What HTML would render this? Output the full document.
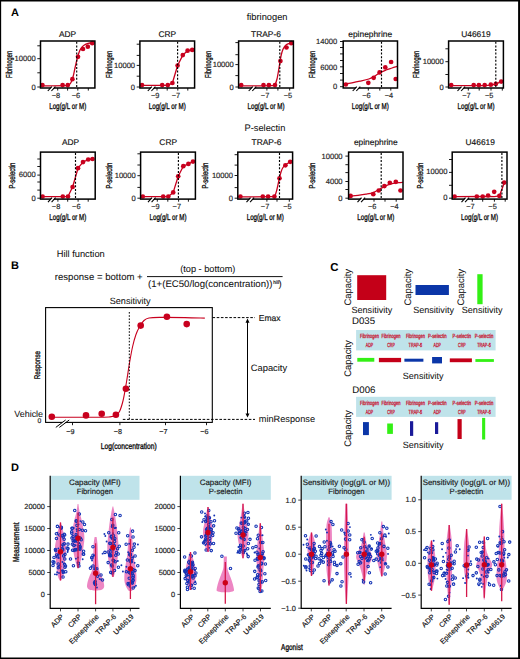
<!DOCTYPE html>
<html><head><meta charset="utf-8"><style>
html,body{margin:0;padding:0;background:#fff;}
svg{display:block;}
svg text{font-family:"Liberation Sans", sans-serif;text-rendering:geometricPrecision;}
</style></head><body>
<svg width="520" height="659" viewBox="0 0 520 659">
<rect x="0" y="0" width="520" height="659" fill="#fff"/>
<text font-size="11" fill="#000" font-weight="bold" transform="translate(10.90 15.70)">A</text>
<text font-size="9.3" text-anchor="middle" fill="#111" stroke="#111" stroke-width="0.06" transform="translate(267.10 19.70)">fibrinogen</text>
<text font-size="9.3" text-anchor="middle" fill="#111" stroke="#111" stroke-width="0.06" transform="translate(264.90 130.70)">P-selectin</text>
<path d="M40.50,85.80 C44.75,85.77 61.25,85.77 66.00,85.60 C70.75,85.43 68.17,85.32 69.00,84.80 C69.83,84.28 70.33,83.80 71.00,82.50 C71.67,81.20 72.33,79.42 73.00,77.00 C73.67,74.58 74.33,70.92 75.00,68.00 C75.67,65.08 76.33,62.08 77.00,59.50 C77.67,56.92 78.33,54.37 79.00,52.50 C79.67,50.63 80.17,49.50 81.00,48.30 C81.83,47.10 82.83,46.12 84.00,45.30 C85.17,44.48 86.25,43.90 88.00,43.40 C89.75,42.90 93.42,42.48 94.50,42.30" fill="none" stroke="#c8001e" stroke-width="1.3" stroke-linejoin="round"/>
<circle cx="42.40" cy="85.10" r="2.35" fill="#c8001e"/>
<circle cx="62.60" cy="85.10" r="2.35" fill="#c8001e"/>
<circle cx="67.80" cy="85.10" r="2.35" fill="#c8001e"/>
<circle cx="72.40" cy="79.20" r="2.35" fill="#c8001e"/>
<circle cx="78.00" cy="56.80" r="2.35" fill="#c8001e"/>
<circle cx="83.00" cy="49.00" r="2.35" fill="#c8001e"/>
<circle cx="87.80" cy="46.70" r="2.35" fill="#c8001e"/>
<circle cx="92.20" cy="43.20" r="2.35" fill="#c8001e"/>
<line x1="76.70" y1="41.80" x2="76.70" y2="87.50" stroke="#000" stroke-width="1.15" stroke-dasharray="2.0 1.6"/>
<rect x="40.50" y="41.00" width="54.40" height="47.00" fill="none" stroke="#000" stroke-width="1.5"/>
<line x1="37.30" y1="45.80" x2="40.50" y2="45.80" stroke="#000" stroke-width="0.9"/>
<line x1="37.30" y1="58.70" x2="40.50" y2="58.70" stroke="#000" stroke-width="0.9"/>
<line x1="37.30" y1="72.80" x2="40.50" y2="72.80" stroke="#000" stroke-width="0.9"/>
<line x1="37.30" y1="87.00" x2="40.50" y2="87.00" stroke="#000" stroke-width="0.9"/>
<text font-size="7.6" text-anchor="end" fill="#222" stroke="#222" stroke-width="0.16" transform="translate(35.70 61.40)">10000</text>
<text font-size="7.6" text-anchor="end" fill="#222" stroke="#222" stroke-width="0.16" transform="translate(35.70 89.70)">0</text>
<line x1="57.70" y1="88.00" x2="57.70" y2="90.60" stroke="#000" stroke-width="0.9"/>
<line x1="67.60" y1="88.00" x2="67.60" y2="90.60" stroke="#000" stroke-width="0.9"/>
<line x1="77.80" y1="88.00" x2="77.80" y2="90.60" stroke="#000" stroke-width="0.9"/>
<line x1="88.30" y1="88.00" x2="88.30" y2="90.60" stroke="#000" stroke-width="0.9"/>
<text font-size="7.4" text-anchor="end" fill="#222" stroke="#222" stroke-width="0.16" transform="translate(60.10 98.30)">−8</text>
<text font-size="7.4" text-anchor="end" fill="#222" stroke="#222" stroke-width="0.16" transform="translate(80.20 98.30)">−6</text>
<polygon points="49.00,90.60 52.00,86.80 54.60,86.80 51.60,90.60" fill="#fff"/>
<line x1="47.80" y1="91.00" x2="51.80" y2="86.60" stroke="#000" stroke-width="1.1"/>
<line x1="51.40" y1="91.00" x2="55.40" y2="86.60" stroke="#000" stroke-width="1.1"/>
<text font-size="8.4" text-anchor="middle" fill="#111" stroke="#111" stroke-width="0.16" transform="translate(67.50 36.50)">ADP</text>
<text font-size="8.6" text-anchor="middle" fill="#111" stroke="#111" stroke-width="0.35" transform="translate(67.70 108.70) scale(0.7212 1)">Log(g/L or M)</text>
<text font-size="8.6" text-anchor="middle" fill="#111" stroke="#111" stroke-width="0.35" transform="translate(11.80 64.40) rotate(-90) scale(0.6644 1)">Fibrinogen</text>
<path d="M142.00,85.30 L162.20,85.30 L167.80,85.30 L172.40,83.00 L177.60,65.50 L182.80,55.10 L187.60,50.70 L192.20,49.90" fill="none" stroke="#c8001e" stroke-width="1.3" stroke-linejoin="round"/>
<circle cx="142.00" cy="85.10" r="2.35" fill="#c8001e"/>
<circle cx="162.20" cy="85.10" r="2.35" fill="#c8001e"/>
<circle cx="167.80" cy="85.10" r="2.35" fill="#c8001e"/>
<circle cx="172.40" cy="83.00" r="2.35" fill="#c8001e"/>
<circle cx="177.60" cy="65.50" r="2.35" fill="#c8001e"/>
<circle cx="182.80" cy="55.10" r="2.35" fill="#c8001e"/>
<circle cx="187.60" cy="50.70" r="2.35" fill="#c8001e"/>
<circle cx="192.20" cy="49.90" r="2.35" fill="#c8001e"/>
<line x1="177.60" y1="41.80" x2="177.60" y2="87.50" stroke="#000" stroke-width="1.15" stroke-dasharray="2.0 1.6"/>
<rect x="139.90" y="41.00" width="54.70" height="47.00" fill="none" stroke="#000" stroke-width="1.5"/>
<line x1="136.70" y1="44.20" x2="139.90" y2="44.20" stroke="#000" stroke-width="0.9"/>
<line x1="136.70" y1="55.40" x2="139.90" y2="55.40" stroke="#000" stroke-width="0.9"/>
<line x1="136.70" y1="65.40" x2="139.90" y2="65.40" stroke="#000" stroke-width="0.9"/>
<line x1="136.70" y1="76.20" x2="139.90" y2="76.20" stroke="#000" stroke-width="0.9"/>
<line x1="136.70" y1="87.00" x2="139.90" y2="87.00" stroke="#000" stroke-width="0.9"/>
<text font-size="7.6" text-anchor="end" fill="#222" stroke="#222" stroke-width="0.16" transform="translate(135.10 68.10)">10000</text>
<text font-size="7.6" text-anchor="end" fill="#222" stroke="#222" stroke-width="0.16" transform="translate(135.10 89.70)">0</text>
<line x1="157.00" y1="88.00" x2="157.00" y2="90.60" stroke="#000" stroke-width="0.9"/>
<line x1="167.20" y1="88.00" x2="167.20" y2="90.60" stroke="#000" stroke-width="0.9"/>
<line x1="177.80" y1="88.00" x2="177.80" y2="90.60" stroke="#000" stroke-width="0.9"/>
<line x1="187.80" y1="88.00" x2="187.80" y2="90.60" stroke="#000" stroke-width="0.9"/>
<text font-size="7.4" text-anchor="end" fill="#222" stroke="#222" stroke-width="0.16" transform="translate(159.40 98.30)">−9</text>
<text font-size="7.4" text-anchor="end" fill="#222" stroke="#222" stroke-width="0.16" transform="translate(180.20 98.30)">−7</text>
<polygon points="149.00,90.60 152.00,86.80 154.60,86.80 151.60,90.60" fill="#fff"/>
<line x1="147.80" y1="91.00" x2="151.80" y2="86.60" stroke="#000" stroke-width="1.1"/>
<line x1="151.40" y1="91.00" x2="155.40" y2="86.60" stroke="#000" stroke-width="1.1"/>
<text font-size="8.4" text-anchor="middle" fill="#111" stroke="#111" stroke-width="0.16" transform="translate(167.30 36.50)">CRP</text>
<text font-size="8.6" text-anchor="middle" fill="#111" stroke="#111" stroke-width="0.35" transform="translate(167.25 108.70) scale(0.7212 1)">Log(g/L or M)</text>
<text font-size="8.6" text-anchor="middle" fill="#111" stroke="#111" stroke-width="0.35" transform="translate(112.30 64.40) rotate(-90) scale(0.6644 1)">Fibrinogen</text>
<path d="M238.50,85.80 C244.08,85.77 265.92,85.85 272.00,85.60 C278.08,85.35 274.17,85.40 275.00,84.30 C275.83,83.20 276.33,81.72 277.00,79.00 C277.67,76.28 278.33,71.83 279.00,68.00 C279.67,64.17 280.33,59.13 281.00,56.00 C281.67,52.87 282.17,51.03 283.00,49.20 C283.83,47.37 284.83,46.00 286.00,45.00 C287.17,44.00 288.78,43.60 290.00,43.20 C291.22,42.80 292.75,42.70 293.30,42.60" fill="none" stroke="#c8001e" stroke-width="1.3" stroke-linejoin="round"/>
<circle cx="241.20" cy="85.10" r="2.35" fill="#c8001e"/>
<circle cx="263.50" cy="85.10" r="2.35" fill="#c8001e"/>
<circle cx="268.90" cy="85.10" r="2.35" fill="#c8001e"/>
<circle cx="275.00" cy="85.10" r="2.35" fill="#c8001e"/>
<circle cx="280.40" cy="61.10" r="2.35" fill="#c8001e"/>
<circle cx="286.50" cy="47.50" r="2.35" fill="#c8001e"/>
<circle cx="291.20" cy="43.20" r="2.35" fill="#c8001e"/>
<line x1="279.80" y1="41.80" x2="279.80" y2="87.50" stroke="#000" stroke-width="1.15" stroke-dasharray="2.0 1.6"/>
<rect x="238.60" y="41.00" width="54.80" height="47.00" fill="none" stroke="#000" stroke-width="1.5"/>
<line x1="235.40" y1="42.60" x2="238.60" y2="42.60" stroke="#000" stroke-width="0.9"/>
<line x1="235.40" y1="54.70" x2="238.60" y2="54.70" stroke="#000" stroke-width="0.9"/>
<line x1="235.40" y1="64.60" x2="238.60" y2="64.60" stroke="#000" stroke-width="0.9"/>
<line x1="235.40" y1="75.60" x2="238.60" y2="75.60" stroke="#000" stroke-width="0.9"/>
<line x1="235.40" y1="87.00" x2="238.60" y2="87.00" stroke="#000" stroke-width="0.9"/>
<text font-size="7.6" text-anchor="end" fill="#222" stroke="#222" stroke-width="0.16" transform="translate(233.80 67.30)">10000</text>
<text font-size="7.6" text-anchor="end" fill="#222" stroke="#222" stroke-width="0.16" transform="translate(233.80 89.70)">0</text>
<line x1="266.90" y1="88.00" x2="266.90" y2="90.60" stroke="#000" stroke-width="0.9"/>
<line x1="277.90" y1="88.00" x2="277.90" y2="90.60" stroke="#000" stroke-width="0.9"/>
<line x1="289.70" y1="88.00" x2="289.70" y2="90.60" stroke="#000" stroke-width="0.9"/>
<text font-size="7.4" text-anchor="end" fill="#222" stroke="#222" stroke-width="0.16" transform="translate(269.30 98.30)">−7</text>
<text font-size="7.4" text-anchor="end" fill="#222" stroke="#222" stroke-width="0.16" transform="translate(292.10 98.30)">−5</text>
<polygon points="249.90,90.60 252.90,86.80 255.50,86.80 252.50,90.60" fill="#fff"/>
<line x1="248.70" y1="91.00" x2="252.70" y2="86.60" stroke="#000" stroke-width="1.1"/>
<line x1="252.30" y1="91.00" x2="256.30" y2="86.60" stroke="#000" stroke-width="1.1"/>
<text font-size="8.4" text-anchor="middle" fill="#111" stroke="#111" stroke-width="0.16" transform="translate(266.00 36.50)">TRAP-6</text>
<text font-size="8.6" text-anchor="middle" fill="#111" stroke="#111" stroke-width="0.35" transform="translate(266.00 108.70) scale(0.7212 1)">Log(g/L or M)</text>
<text font-size="8.6" text-anchor="middle" fill="#111" stroke="#111" stroke-width="0.35" transform="translate(210.80 64.40) rotate(-90) scale(0.6644 1)">Fibrinogen</text>
<path d="M343.10,84.20 C344.58,83.97 349.18,83.30 352.00,82.80 C354.82,82.30 357.20,81.83 360.00,81.20 C362.80,80.57 366.30,79.87 368.80,79.00 C371.30,78.13 373.13,77.07 375.00,76.00 C376.87,74.93 378.17,73.60 380.00,72.60 C381.83,71.60 384.00,70.77 386.00,70.00 C388.00,69.23 390.12,68.62 392.00,68.00 C393.88,67.38 396.42,66.58 397.30,66.30" fill="none" stroke="#c8001e" stroke-width="1.3" stroke-linejoin="round"/>
<circle cx="345.80" cy="84.50" r="2.35" fill="#c8001e"/>
<circle cx="368.30" cy="82.80" r="2.35" fill="#c8001e"/>
<circle cx="373.70" cy="77.80" r="2.35" fill="#c8001e"/>
<circle cx="379.60" cy="72.40" r="2.35" fill="#c8001e"/>
<circle cx="385.30" cy="67.40" r="2.35" fill="#c8001e"/>
<circle cx="391.10" cy="62.00" r="2.35" fill="#c8001e"/>
<circle cx="395.70" cy="79.00" r="2.35" fill="#c8001e"/>
<line x1="381.50" y1="41.80" x2="381.50" y2="87.50" stroke="#000" stroke-width="1.15" stroke-dasharray="2.0 1.6"/>
<rect x="343.20" y="41.00" width="54.30" height="47.00" fill="none" stroke="#000" stroke-width="1.5"/>
<line x1="340.00" y1="41.50" x2="343.20" y2="41.50" stroke="#000" stroke-width="0.9"/>
<line x1="340.00" y1="47.50" x2="343.20" y2="47.50" stroke="#000" stroke-width="0.9"/>
<line x1="340.00" y1="53.90" x2="343.20" y2="53.90" stroke="#000" stroke-width="0.9"/>
<line x1="340.00" y1="60.50" x2="343.20" y2="60.50" stroke="#000" stroke-width="0.9"/>
<line x1="340.00" y1="66.80" x2="343.20" y2="66.80" stroke="#000" stroke-width="0.9"/>
<line x1="340.00" y1="73.50" x2="343.20" y2="73.50" stroke="#000" stroke-width="0.9"/>
<line x1="340.00" y1="80.10" x2="343.20" y2="80.10" stroke="#000" stroke-width="0.9"/>
<line x1="340.00" y1="86.70" x2="343.20" y2="86.70" stroke="#000" stroke-width="0.9"/>
<text font-size="7.6" text-anchor="end" fill="#222" stroke="#222" stroke-width="0.16" transform="translate(337.20 43.90)">14000</text>
<text font-size="7.6" text-anchor="end" fill="#222" stroke="#222" stroke-width="0.16" transform="translate(337.20 69.50)">6000</text>
<text font-size="7.6" text-anchor="end" fill="#222" stroke="#222" stroke-width="0.16" transform="translate(337.20 89.40)">0</text>
<line x1="368.30" y1="88.00" x2="368.30" y2="90.60" stroke="#000" stroke-width="0.9"/>
<line x1="379.80" y1="88.00" x2="379.80" y2="90.60" stroke="#000" stroke-width="0.9"/>
<line x1="390.80" y1="88.00" x2="390.80" y2="90.60" stroke="#000" stroke-width="0.9"/>
<text font-size="7.4" text-anchor="end" fill="#222" stroke="#222" stroke-width="0.16" transform="translate(370.70 98.30)">−6</text>
<text font-size="7.4" text-anchor="end" fill="#222" stroke="#222" stroke-width="0.16" transform="translate(393.20 98.30)">−4</text>
<polygon points="353.90,90.60 356.90,86.80 359.50,86.80 356.50,90.60" fill="#fff"/>
<line x1="352.70" y1="91.00" x2="356.70" y2="86.60" stroke="#000" stroke-width="1.1"/>
<line x1="356.30" y1="91.00" x2="360.30" y2="86.60" stroke="#000" stroke-width="1.1"/>
<text font-size="8.4" text-anchor="middle" fill="#111" stroke="#111" stroke-width="0.16" transform="translate(370.20 36.50)">epinephrine</text>
<text font-size="8.6" text-anchor="middle" fill="#111" stroke="#111" stroke-width="0.35" transform="translate(370.35 108.70) scale(0.7212 1)">Log(g/L or M)</text>
<text font-size="8.6" text-anchor="middle" fill="#111" stroke="#111" stroke-width="0.35" transform="translate(315.30 64.40) rotate(-90) scale(0.6644 1)">Fibrinogen</text>
<path d="M451.20,85.60 L484.70,85.60 L490.80,85.20 L495.80,84.20 L501.20,81.60" fill="none" stroke="#c8001e" stroke-width="1.3" stroke-linejoin="round"/>
<circle cx="451.20" cy="85.10" r="2.35" fill="#c8001e"/>
<circle cx="473.70" cy="85.10" r="2.35" fill="#c8001e"/>
<circle cx="478.90" cy="85.10" r="2.35" fill="#c8001e"/>
<circle cx="484.70" cy="85.10" r="2.35" fill="#c8001e"/>
<circle cx="490.80" cy="84.70" r="2.35" fill="#c8001e"/>
<circle cx="495.80" cy="83.90" r="2.35" fill="#c8001e"/>
<circle cx="501.20" cy="81.60" r="2.35" fill="#c8001e"/>
<line x1="495.80" y1="41.80" x2="495.80" y2="87.50" stroke="#000" stroke-width="1.15" stroke-dasharray="2.0 1.6"/>
<rect x="448.60" y="41.00" width="54.80" height="47.00" fill="none" stroke="#000" stroke-width="1.5"/>
<line x1="445.40" y1="48.80" x2="448.60" y2="48.80" stroke="#000" stroke-width="0.9"/>
<line x1="445.40" y1="61.70" x2="448.60" y2="61.70" stroke="#000" stroke-width="0.9"/>
<line x1="445.40" y1="74.50" x2="448.60" y2="74.50" stroke="#000" stroke-width="0.9"/>
<line x1="445.40" y1="87.00" x2="448.60" y2="87.00" stroke="#000" stroke-width="0.9"/>
<text font-size="7.6" text-anchor="end" fill="#222" stroke="#222" stroke-width="0.16" transform="translate(443.80 64.40)">10000</text>
<text font-size="7.6" text-anchor="end" fill="#222" stroke="#222" stroke-width="0.16" transform="translate(443.80 89.70)">0</text>
<line x1="468.30" y1="88.00" x2="468.30" y2="90.60" stroke="#000" stroke-width="0.9"/>
<line x1="479.20" y1="88.00" x2="479.20" y2="90.60" stroke="#000" stroke-width="0.9"/>
<line x1="491.00" y1="88.00" x2="491.00" y2="90.60" stroke="#000" stroke-width="0.9"/>
<line x1="502.30" y1="88.00" x2="502.30" y2="90.60" stroke="#000" stroke-width="0.9"/>
<text font-size="7.4" text-anchor="end" fill="#222" stroke="#222" stroke-width="0.16" transform="translate(470.70 98.30)">−7</text>
<text font-size="7.4" text-anchor="end" fill="#222" stroke="#222" stroke-width="0.16" transform="translate(493.40 98.30)">−5</text>
<polygon points="458.70,90.60 461.70,86.80 464.30,86.80 461.30,90.60" fill="#fff"/>
<line x1="457.50" y1="91.00" x2="461.50" y2="86.60" stroke="#000" stroke-width="1.1"/>
<line x1="461.10" y1="91.00" x2="465.10" y2="86.60" stroke="#000" stroke-width="1.1"/>
<text font-size="8.4" text-anchor="middle" fill="#111" stroke="#111" stroke-width="0.16" transform="translate(475.90 36.70)">U46619</text>
<text font-size="8.6" text-anchor="middle" fill="#111" stroke="#111" stroke-width="0.35" transform="translate(476.00 108.70) scale(0.7212 1)">Log(g/L or M)</text>
<text font-size="8.6" text-anchor="middle" fill="#111" stroke="#111" stroke-width="0.35" transform="translate(418.50 64.40) rotate(-90) scale(0.6644 1)">Fibrinogen</text>
<path d="M42.60,196.70 L62.80,196.70 L68.00,196.50 L72.60,187.00 L78.00,168.20 L83.00,162.10 L88.20,159.50 L92.50,159.00" fill="none" stroke="#c8001e" stroke-width="1.3" stroke-linejoin="round"/>
<circle cx="42.60" cy="196.50" r="2.35" fill="#c8001e"/>
<circle cx="62.80" cy="196.50" r="2.35" fill="#c8001e"/>
<circle cx="68.00" cy="196.50" r="2.35" fill="#c8001e"/>
<circle cx="72.60" cy="187.00" r="2.35" fill="#c8001e"/>
<circle cx="78.00" cy="168.20" r="2.35" fill="#c8001e"/>
<circle cx="83.00" cy="162.10" r="2.35" fill="#c8001e"/>
<circle cx="88.20" cy="159.50" r="2.35" fill="#c8001e"/>
<circle cx="92.50" cy="159.00" r="2.35" fill="#c8001e"/>
<line x1="75.50" y1="152.90" x2="75.50" y2="198.60" stroke="#000" stroke-width="1.15" stroke-dasharray="2.0 1.6"/>
<rect x="40.50" y="152.10" width="54.70" height="47.00" fill="none" stroke="#000" stroke-width="1.5"/>
<line x1="37.30" y1="159.00" x2="40.50" y2="159.00" stroke="#000" stroke-width="0.9"/>
<line x1="37.30" y1="166.50" x2="40.50" y2="166.50" stroke="#000" stroke-width="0.9"/>
<line x1="37.30" y1="175.10" x2="40.50" y2="175.10" stroke="#000" stroke-width="0.9"/>
<line x1="37.30" y1="182.00" x2="40.50" y2="182.00" stroke="#000" stroke-width="0.9"/>
<line x1="37.30" y1="190.10" x2="40.50" y2="190.10" stroke="#000" stroke-width="0.9"/>
<line x1="37.30" y1="198.20" x2="40.50" y2="198.20" stroke="#000" stroke-width="0.9"/>
<text font-size="7.6" text-anchor="end" fill="#222" stroke="#222" stroke-width="0.16" transform="translate(35.70 177.10)">6000</text>
<text font-size="7.6" text-anchor="end" fill="#222" stroke="#222" stroke-width="0.16" transform="translate(35.70 200.90)">0</text>
<line x1="57.90" y1="199.10" x2="57.90" y2="201.70" stroke="#000" stroke-width="0.9"/>
<line x1="67.70" y1="199.10" x2="67.70" y2="201.70" stroke="#000" stroke-width="0.9"/>
<line x1="78.10" y1="199.10" x2="78.10" y2="201.70" stroke="#000" stroke-width="0.9"/>
<line x1="88.20" y1="199.10" x2="88.20" y2="201.70" stroke="#000" stroke-width="0.9"/>
<text font-size="7.4" text-anchor="end" fill="#222" stroke="#222" stroke-width="0.16" transform="translate(60.30 209.40)">−8</text>
<text font-size="7.4" text-anchor="end" fill="#222" stroke="#222" stroke-width="0.16" transform="translate(80.50 209.40)">−6</text>
<polygon points="49.20,201.70 52.20,197.90 54.80,197.90 51.80,201.70" fill="#fff"/>
<line x1="48.00" y1="202.10" x2="52.00" y2="197.70" stroke="#000" stroke-width="1.1"/>
<line x1="51.60" y1="202.10" x2="55.60" y2="197.70" stroke="#000" stroke-width="1.1"/>
<text font-size="8.4" text-anchor="middle" fill="#111" stroke="#111" stroke-width="0.16" transform="translate(70.60 144.60)">ADP</text>
<text font-size="8.6" text-anchor="middle" fill="#111" stroke="#111" stroke-width="0.35" transform="translate(67.85 219.70) scale(0.7212 1)">Log(g/L or M)</text>
<text font-size="8.6" text-anchor="middle" fill="#111" stroke="#111" stroke-width="0.35" transform="translate(14.60 175.60) rotate(-90) scale(0.6886 1)">P-selectin</text>
<path d="M142.80,196.70 L163.20,196.70 L168.30,196.50 L173.20,192.40 L178.20,176.30 L183.30,166.20 L188.40,163.90 L193.00,161.60" fill="none" stroke="#c8001e" stroke-width="1.3" stroke-linejoin="round"/>
<circle cx="142.80" cy="196.50" r="2.35" fill="#c8001e"/>
<circle cx="163.20" cy="196.50" r="2.35" fill="#c8001e"/>
<circle cx="168.30" cy="196.50" r="2.35" fill="#c8001e"/>
<circle cx="173.20" cy="192.40" r="2.35" fill="#c8001e"/>
<circle cx="178.20" cy="176.30" r="2.35" fill="#c8001e"/>
<circle cx="183.30" cy="166.20" r="2.35" fill="#c8001e"/>
<circle cx="188.40" cy="163.90" r="2.35" fill="#c8001e"/>
<circle cx="193.00" cy="161.60" r="2.35" fill="#c8001e"/>
<line x1="178.40" y1="152.90" x2="178.40" y2="198.60" stroke="#000" stroke-width="1.15" stroke-dasharray="2.0 1.6"/>
<rect x="140.60" y="152.10" width="54.80" height="47.00" fill="none" stroke="#000" stroke-width="1.5"/>
<line x1="137.40" y1="153.80" x2="140.60" y2="153.80" stroke="#000" stroke-width="0.9"/>
<line x1="137.40" y1="165.00" x2="140.60" y2="165.00" stroke="#000" stroke-width="0.9"/>
<line x1="137.40" y1="175.70" x2="140.60" y2="175.70" stroke="#000" stroke-width="0.9"/>
<line x1="137.40" y1="187.40" x2="140.60" y2="187.40" stroke="#000" stroke-width="0.9"/>
<line x1="137.40" y1="198.20" x2="140.60" y2="198.20" stroke="#000" stroke-width="0.9"/>
<text font-size="7.6" text-anchor="end" fill="#222" stroke="#222" stroke-width="0.16" transform="translate(135.80 178.30)">10000</text>
<text font-size="7.6" text-anchor="end" fill="#222" stroke="#222" stroke-width="0.16" transform="translate(135.80 200.90)">0</text>
<line x1="157.30" y1="199.10" x2="157.30" y2="201.70" stroke="#000" stroke-width="0.9"/>
<line x1="167.80" y1="199.10" x2="167.80" y2="201.70" stroke="#000" stroke-width="0.9"/>
<line x1="178.60" y1="199.10" x2="178.60" y2="201.70" stroke="#000" stroke-width="0.9"/>
<line x1="188.40" y1="199.10" x2="188.40" y2="201.70" stroke="#000" stroke-width="0.9"/>
<text font-size="7.4" text-anchor="end" fill="#222" stroke="#222" stroke-width="0.16" transform="translate(159.70 209.40)">−9</text>
<text font-size="7.4" text-anchor="end" fill="#222" stroke="#222" stroke-width="0.16" transform="translate(181.00 209.40)">−7</text>
<polygon points="149.20,201.70 152.20,197.90 154.80,197.90 151.80,201.70" fill="#fff"/>
<line x1="148.00" y1="202.10" x2="152.00" y2="197.70" stroke="#000" stroke-width="1.1"/>
<line x1="151.60" y1="202.10" x2="155.60" y2="197.70" stroke="#000" stroke-width="1.1"/>
<text font-size="8.4" text-anchor="middle" fill="#111" stroke="#111" stroke-width="0.16" transform="translate(168.20 144.60)">CRP</text>
<text font-size="8.6" text-anchor="middle" fill="#111" stroke="#111" stroke-width="0.35" transform="translate(168.00 219.70) scale(0.7212 1)">Log(g/L or M)</text>
<text font-size="8.6" text-anchor="middle" fill="#111" stroke="#111" stroke-width="0.35" transform="translate(111.60 175.60) rotate(-90) scale(0.6886 1)">P-selectin</text>
<path d="M237.70,196.80 C243.42,196.78 265.82,196.87 272.00,196.70 C278.18,196.53 274.00,196.92 274.80,195.80 C275.60,194.68 276.10,192.63 276.80,190.00 C277.50,187.37 278.30,183.00 279.00,180.00 C279.70,177.00 280.33,174.08 281.00,172.00 C281.67,169.92 282.17,168.75 283.00,167.50 C283.83,166.25 284.83,165.38 286.00,164.50 C287.17,163.62 288.92,162.70 290.00,162.20 C291.08,161.70 292.08,161.62 292.50,161.50" fill="none" stroke="#c8001e" stroke-width="1.3" stroke-linejoin="round"/>
<circle cx="240.40" cy="196.50" r="2.35" fill="#c8001e"/>
<circle cx="262.80" cy="196.50" r="2.35" fill="#c8001e"/>
<circle cx="268.10" cy="196.50" r="2.35" fill="#c8001e"/>
<circle cx="274.40" cy="196.50" r="2.35" fill="#c8001e"/>
<circle cx="279.50" cy="178.30" r="2.35" fill="#c8001e"/>
<circle cx="285.40" cy="165.30" r="2.35" fill="#c8001e"/>
<circle cx="290.20" cy="161.80" r="2.35" fill="#c8001e"/>
<line x1="279.50" y1="152.90" x2="279.50" y2="198.60" stroke="#000" stroke-width="1.15" stroke-dasharray="2.0 1.6"/>
<rect x="237.80" y="152.10" width="54.80" height="47.00" fill="none" stroke="#000" stroke-width="1.5"/>
<line x1="234.60" y1="154.70" x2="237.80" y2="154.70" stroke="#000" stroke-width="0.9"/>
<line x1="234.60" y1="165.10" x2="237.80" y2="165.10" stroke="#000" stroke-width="0.9"/>
<line x1="234.60" y1="175.50" x2="237.80" y2="175.50" stroke="#000" stroke-width="0.9"/>
<line x1="234.60" y1="187.60" x2="237.80" y2="187.60" stroke="#000" stroke-width="0.9"/>
<line x1="234.60" y1="198.20" x2="237.80" y2="198.20" stroke="#000" stroke-width="0.9"/>
<text font-size="7.6" text-anchor="end" fill="#222" stroke="#222" stroke-width="0.16" transform="translate(233.00 178.20)">10000</text>
<text font-size="7.6" text-anchor="end" fill="#222" stroke="#222" stroke-width="0.16" transform="translate(233.00 200.90)">0</text>
<line x1="266.90" y1="199.10" x2="266.90" y2="201.70" stroke="#000" stroke-width="0.9"/>
<line x1="277.00" y1="199.10" x2="277.00" y2="201.70" stroke="#000" stroke-width="0.9"/>
<line x1="289.30" y1="199.10" x2="289.30" y2="201.70" stroke="#000" stroke-width="0.9"/>
<text font-size="7.4" text-anchor="end" fill="#222" stroke="#222" stroke-width="0.16" transform="translate(269.30 209.40)">−7</text>
<text font-size="7.4" text-anchor="end" fill="#222" stroke="#222" stroke-width="0.16" transform="translate(291.70 209.40)">−5</text>
<polygon points="247.70,201.70 250.70,197.90 253.30,197.90 250.30,201.70" fill="#fff"/>
<line x1="246.50" y1="202.10" x2="250.50" y2="197.70" stroke="#000" stroke-width="1.1"/>
<line x1="250.10" y1="202.10" x2="254.10" y2="197.70" stroke="#000" stroke-width="1.1"/>
<text font-size="8.4" text-anchor="middle" fill="#111" stroke="#111" stroke-width="0.16" transform="translate(266.50 144.60)">TRAP-6</text>
<text font-size="8.6" text-anchor="middle" fill="#111" stroke="#111" stroke-width="0.35" transform="translate(265.20 219.70) scale(0.7212 1)">Log(g/L or M)</text>
<text font-size="8.6" text-anchor="middle" fill="#111" stroke="#111" stroke-width="0.35" transform="translate(208.30 175.60) rotate(-90) scale(0.6886 1)">P-selectin</text>
<path d="M348.50,196.40 C350.08,196.23 355.08,195.77 358.00,195.40 C360.92,195.03 363.48,194.67 366.00,194.20 C368.52,193.73 370.93,193.38 373.10,192.60 C375.27,191.82 377.17,190.48 379.00,189.50 C380.83,188.52 382.27,187.58 384.10,186.70 C385.93,185.82 388.18,184.80 390.00,184.20 C391.82,183.60 393.30,183.37 395.00,183.10 C396.70,182.83 398.88,182.72 400.20,182.60 C401.52,182.48 402.45,182.43 402.90,182.40" fill="none" stroke="#c8001e" stroke-width="1.3" stroke-linejoin="round"/>
<circle cx="350.60" cy="195.90" r="2.35" fill="#c8001e"/>
<circle cx="373.30" cy="194.20" r="2.35" fill="#c8001e"/>
<circle cx="378.70" cy="190.50" r="2.35" fill="#c8001e"/>
<circle cx="384.40" cy="186.10" r="2.35" fill="#c8001e"/>
<circle cx="389.80" cy="182.80" r="2.35" fill="#c8001e"/>
<circle cx="395.80" cy="181.80" r="2.35" fill="#c8001e"/>
<circle cx="400.50" cy="190.50" r="2.35" fill="#c8001e"/>
<line x1="381.20" y1="152.90" x2="381.20" y2="198.60" stroke="#000" stroke-width="1.15" stroke-dasharray="2.0 1.6"/>
<rect x="348.60" y="152.10" width="54.40" height="47.00" fill="none" stroke="#000" stroke-width="1.5"/>
<line x1="345.40" y1="156.10" x2="348.60" y2="156.10" stroke="#000" stroke-width="0.9"/>
<line x1="345.40" y1="164.70" x2="348.60" y2="164.70" stroke="#000" stroke-width="0.9"/>
<line x1="345.40" y1="172.60" x2="348.60" y2="172.60" stroke="#000" stroke-width="0.9"/>
<line x1="345.40" y1="181.50" x2="348.60" y2="181.50" stroke="#000" stroke-width="0.9"/>
<line x1="345.40" y1="189.50" x2="348.60" y2="189.50" stroke="#000" stroke-width="0.9"/>
<line x1="345.40" y1="198.20" x2="348.60" y2="198.20" stroke="#000" stroke-width="0.9"/>
<text font-size="7.6" text-anchor="end" fill="#222" stroke="#222" stroke-width="0.16" transform="translate(342.60 159.00)">10000</text>
<text font-size="7.6" text-anchor="end" fill="#222" stroke="#222" stroke-width="0.16" transform="translate(342.60 183.70)">4000</text>
<text font-size="7.6" text-anchor="end" fill="#222" stroke="#222" stroke-width="0.16" transform="translate(342.60 200.90)">0</text>
<line x1="374.00" y1="199.10" x2="374.00" y2="201.70" stroke="#000" stroke-width="0.9"/>
<line x1="385.00" y1="199.10" x2="385.00" y2="201.70" stroke="#000" stroke-width="0.9"/>
<line x1="396.20" y1="199.10" x2="396.20" y2="201.70" stroke="#000" stroke-width="0.9"/>
<text font-size="7.4" text-anchor="end" fill="#222" stroke="#222" stroke-width="0.16" transform="translate(376.40 209.40)">−6</text>
<text font-size="7.4" text-anchor="end" fill="#222" stroke="#222" stroke-width="0.16" transform="translate(398.60 209.40)">−4</text>
<polygon points="358.70,201.70 361.70,197.90 364.30,197.90 361.30,201.70" fill="#fff"/>
<line x1="357.50" y1="202.10" x2="361.50" y2="197.70" stroke="#000" stroke-width="1.1"/>
<line x1="361.10" y1="202.10" x2="365.10" y2="197.70" stroke="#000" stroke-width="1.1"/>
<text font-size="8.4" text-anchor="middle" fill="#111" stroke="#111" stroke-width="0.16" transform="translate(375.80 144.60)">epinephrine</text>
<text font-size="8.6" text-anchor="middle" fill="#111" stroke="#111" stroke-width="0.35" transform="translate(375.80 219.70) scale(0.7212 1)">Log(g/L or M)</text>
<text font-size="8.6" text-anchor="middle" fill="#111" stroke="#111" stroke-width="0.35" transform="translate(315.30 175.60) rotate(-90) scale(0.6886 1)">P-selectin</text>
<path d="M454.60,196.60 L488.10,196.40 L494.20,196.60 L499.40,195.90 L504.40,182.40" fill="none" stroke="#c8001e" stroke-width="1.3" stroke-linejoin="round"/>
<circle cx="454.60" cy="196.50" r="2.35" fill="#c8001e"/>
<circle cx="476.80" cy="196.50" r="2.35" fill="#c8001e"/>
<circle cx="482.70" cy="196.50" r="2.35" fill="#c8001e"/>
<circle cx="488.10" cy="195.50" r="2.35" fill="#c8001e"/>
<circle cx="494.20" cy="191.80" r="2.35" fill="#c8001e"/>
<circle cx="499.40" cy="195.90" r="2.35" fill="#c8001e"/>
<circle cx="504.20" cy="182.60" r="2.35" fill="#c8001e"/>
<line x1="501.90" y1="152.90" x2="501.90" y2="198.60" stroke="#000" stroke-width="1.15" stroke-dasharray="2.0 1.6"/>
<rect x="452.20" y="152.10" width="54.80" height="47.00" fill="none" stroke="#000" stroke-width="1.5"/>
<line x1="449.00" y1="159.50" x2="452.20" y2="159.50" stroke="#000" stroke-width="0.9"/>
<line x1="449.00" y1="172.40" x2="452.20" y2="172.40" stroke="#000" stroke-width="0.9"/>
<line x1="449.00" y1="185.30" x2="452.20" y2="185.30" stroke="#000" stroke-width="0.9"/>
<line x1="449.00" y1="198.20" x2="452.20" y2="198.20" stroke="#000" stroke-width="0.9"/>
<text font-size="7.6" text-anchor="end" fill="#222" stroke="#222" stroke-width="0.16" transform="translate(447.40 174.30)">10000</text>
<text font-size="7.6" text-anchor="end" fill="#222" stroke="#222" stroke-width="0.16" transform="translate(447.40 199.90)">0</text>
<line x1="472.30" y1="199.10" x2="472.30" y2="201.70" stroke="#000" stroke-width="0.9"/>
<line x1="482.70" y1="199.10" x2="482.70" y2="201.70" stroke="#000" stroke-width="0.9"/>
<line x1="494.40" y1="199.10" x2="494.40" y2="201.70" stroke="#000" stroke-width="0.9"/>
<line x1="505.20" y1="199.10" x2="505.20" y2="201.70" stroke="#000" stroke-width="0.9"/>
<text font-size="7.4" text-anchor="end" fill="#222" stroke="#222" stroke-width="0.16" transform="translate(474.70 209.40)">−7</text>
<text font-size="7.4" text-anchor="end" fill="#222" stroke="#222" stroke-width="0.16" transform="translate(496.80 209.40)">−5</text>
<polygon points="462.70,201.70 465.70,197.90 468.30,197.90 465.30,201.70" fill="#fff"/>
<line x1="461.50" y1="202.10" x2="465.50" y2="197.70" stroke="#000" stroke-width="1.1"/>
<line x1="465.10" y1="202.10" x2="469.10" y2="197.70" stroke="#000" stroke-width="1.1"/>
<text font-size="8.4" text-anchor="middle" fill="#111" stroke="#111" stroke-width="0.16" transform="translate(480.20 144.60)">U46619</text>
<text font-size="8.6" text-anchor="middle" fill="#111" stroke="#111" stroke-width="0.35" transform="translate(479.60 219.70) scale(0.7212 1)">Log(g/L or M)</text>
<text font-size="8.6" text-anchor="middle" fill="#111" stroke="#111" stroke-width="0.35" transform="translate(423.10 175.60) rotate(-90) scale(0.6886 1)">P-selectin</text>
<text font-size="11" fill="#000" font-weight="bold" transform="translate(11.10 269.40)">B</text>
<text font-size="9.3" fill="#111" stroke="#111" stroke-width="0.06" transform="translate(56.70 256.90)">Hill function</text>
<text font-size="9.5" fill="#111" stroke="#111" stroke-width="0.06" transform="translate(54.80 280.20) scale(1.0087 1)">response = bottom +</text>
<text font-size="9.3" text-anchor="middle" fill="#111" stroke="#111" stroke-width="0.06" transform="translate(207.80 272.30) scale(0.9871 1)">(top - bottom)</text>
<line x1="147.00" y1="276.60" x2="282.60" y2="276.60" stroke="#111" stroke-width="1.0"/>
<text font-size="9.6" fill="#111" stroke="#111" stroke-width="0.06" transform="translate(148.00 287.40) scale(1.0035 1)">(1+(EC50/log(concentration))</text>
<text font-size="5.0" fill="#111" stroke="#111" stroke-width="0.16" transform="translate(273.20 284.00) scale(0.9487 1)">hill</text>
<text font-size="9.6" fill="#111" stroke="#111" stroke-width="0.06" transform="translate(278.60 287.40)">)</text>
<text font-size="9.1" text-anchor="middle" fill="#111" stroke="#111" stroke-width="0.06" transform="translate(130.20 304.10)">Sensitivity</text>
<path d="M51.80,417.20 C59.83,417.20 90.30,417.25 100.00,417.20 C109.70,417.15 107.42,417.17 110.00,416.90 C112.58,416.63 113.92,416.50 115.50,415.60 C117.08,414.70 118.22,414.10 119.50,411.50 C120.78,408.90 122.03,404.92 123.20,400.00 C124.37,395.08 125.45,388.17 126.50,382.00 C127.55,375.83 128.50,368.83 129.50,363.00 C130.50,357.17 131.45,351.67 132.50,347.00 C133.55,342.33 134.60,338.42 135.80,335.00 C137.00,331.58 138.33,328.92 139.70,326.50 C141.07,324.08 142.45,321.92 144.00,320.50 C145.55,319.08 146.33,318.52 149.00,318.00 C151.67,317.48 154.00,317.47 160.00,317.40 C166.00,317.33 177.53,317.48 185.00,317.60 C192.47,317.72 201.50,318.02 204.80,318.10" fill="none" stroke="#c8001e" stroke-width="1.1"/>
<circle cx="51.80" cy="416.80" r="3.3" fill="#c8001e"/>
<circle cx="86.00" cy="415.40" r="3.3" fill="#c8001e"/>
<circle cx="101.70" cy="413.80" r="3.3" fill="#c8001e"/>
<circle cx="115.90" cy="414.80" r="3.3" fill="#c8001e"/>
<circle cx="125.90" cy="388.80" r="3.3" fill="#c8001e"/>
<circle cx="140.70" cy="325.60" r="3.3" fill="#c8001e"/>
<circle cx="166.90" cy="316.80" r="3.3" fill="#c8001e"/>
<circle cx="186.70" cy="324.10" r="3.3" fill="#c8001e"/>
<line x1="129.30" y1="312.00" x2="129.30" y2="419.30" stroke="#000" stroke-width="1.0" stroke-dasharray="1.6 1.6"/>
<line x1="122.80" y1="419.40" x2="255.00" y2="419.40" stroke="#000" stroke-width="1.0" stroke-dasharray="2.6 1.6"/>
<line x1="212.50" y1="317.60" x2="255.00" y2="317.60" stroke="#000" stroke-width="1.0" stroke-dasharray="2.6 1.6"/>
<rect x="45.6" y="307.6" width="166.7" height="114.8" fill="none" stroke="#000" stroke-width="1.1"/>
<line x1="72.50" y1="422.40" x2="72.50" y2="425.20" stroke="#000" stroke-width="0.9"/>
<text font-size="7.2" text-anchor="end" fill="#222" stroke="#222" stroke-width="0.16" transform="translate(74.50 434.40)">−9</text>
<line x1="119.90" y1="422.40" x2="119.90" y2="425.20" stroke="#000" stroke-width="0.9"/>
<text font-size="7.2" text-anchor="end" fill="#222" stroke="#222" stroke-width="0.16" transform="translate(121.90 434.40)">−8</text>
<line x1="165.50" y1="422.40" x2="165.50" y2="425.20" stroke="#000" stroke-width="0.9"/>
<text font-size="7.2" text-anchor="end" fill="#222" stroke="#222" stroke-width="0.16" transform="translate(167.50 434.40)">−7</text>
<line x1="206.50" y1="422.40" x2="206.50" y2="425.20" stroke="#000" stroke-width="0.9"/>
<text font-size="7.2" text-anchor="end" fill="#222" stroke="#222" stroke-width="0.16" transform="translate(208.50 434.40)">−6</text>
<polygon points="57.30,427.00 64.30,420.60 67.30,420.60 60.30,427.00" fill="#fff"/>
<line x1="55.80" y1="427.40" x2="65.60" y2="420.00" stroke="#000" stroke-width="1.0"/>
<line x1="59.40" y1="427.40" x2="69.20" y2="420.00" stroke="#000" stroke-width="1.0"/>
<text font-size="8.6" text-anchor="middle" fill="#111" stroke="#111" stroke-width="0.35" transform="translate(128.80 448.60) scale(0.7809 1)">Log(concentration)</text>
<text font-size="8.2" text-anchor="middle" fill="#111" stroke="#111" stroke-width="0.35" transform="translate(40.30 365.10) rotate(-90) scale(0.7691 1)">Response</text>
<text font-size="9.0" fill="#111" stroke="#111" stroke-width="0.06" transform="translate(14.20 417.30) scale(0.9958 1)">Vehicle</text>
<text font-size="6.8" text-anchor="end" fill="#222" stroke="#222" stroke-width="0.16" transform="translate(41.30 423.40)">0</text>
<line x1="247.50" y1="321.50" x2="247.50" y2="414.50" stroke="#000" stroke-width="1.0"/>
<polygon points="247.50,318.60 245.50,322.80 249.50,322.80" fill="#000"/>
<polygon points="247.50,417.60 245.50,413.40 249.50,413.40" fill="#000"/>
<text font-size="8.6" fill="#111" stroke="#111" stroke-width="0.16" transform="translate(258.80 321.20) scale(0.9917 1)">Emax</text>
<text font-size="9.3" fill="#111" stroke="#111" stroke-width="0.06" transform="translate(250.80 370.80) scale(1.0032 1)">Capacity</text>
<text font-size="9.2" fill="#111" stroke="#111" stroke-width="0.06" transform="translate(258.80 422.00) scale(1.0009 1)">minResponse</text>
<text font-size="11.4" fill="#000" font-weight="bold" transform="translate(330.20 270.90)">C</text>
<rect x="357.20" y="275.20" width="29.00" height="24.80" fill="#c40018"/>
<rect x="415.50" y="285.00" width="33.40" height="10.00" fill="#0b36a8"/>
<rect x="477.30" y="274.20" width="5.30" height="30.00" fill="#33f015"/>
<text font-size="9.5" text-anchor="middle" fill="#111" stroke="#111" stroke-width="0.06" transform="translate(351.20 287.20) rotate(-90) scale(0.9875 1)">Capacity</text>
<text font-size="9.5" text-anchor="middle" fill="#111" stroke="#111" stroke-width="0.06" transform="translate(411.20 287.20) rotate(-90) scale(0.9875 1)">Capacity</text>
<text font-size="9.5" text-anchor="middle" fill="#111" stroke="#111" stroke-width="0.06" transform="translate(463.90 287.20) rotate(-90) scale(0.9875 1)">Capacity</text>
<text font-size="9.06" fill="#111" stroke="#111" stroke-width="0.06" transform="translate(351.50 313.10) scale(1.0004 1)">Sensitivity</text>
<text font-size="9.06" fill="#111" stroke="#111" stroke-width="0.06" transform="translate(413.20 313.10) scale(1.0004 1)">Sensitivity</text>
<text font-size="9.06" fill="#111" stroke="#111" stroke-width="0.06" transform="translate(461.80 313.10) scale(1.0004 1)">Sensitivity</text>
<text font-size="9.6" fill="#111" stroke="#111" stroke-width="0.06" transform="translate(352.00 323.80) scale(1.0065 1)">D035</text>
<text font-size="9.6" fill="#111" stroke="#111" stroke-width="0.06" transform="translate(352.30 393.30) scale(1.0065 1)">D006</text>
<rect x="356.10" y="330.00" width="139.50" height="20.40" fill="#bfe3ea"/>
<text font-size="6.0" text-anchor="middle" fill="#c8102e" stroke="#c8102e" stroke-width="0.3" transform="translate(369.50 337.90) scale(0.6702 1)">Fibrinogen</text>
<text font-size="6.0" text-anchor="middle" fill="#c8102e" stroke="#c8102e" stroke-width="0.3" transform="translate(369.50 347.10) scale(0.5998 1)">ADP</text>
<text font-size="6.0" text-anchor="middle" fill="#c8102e" stroke="#c8102e" stroke-width="0.3" transform="translate(391.00 337.90) scale(0.6702 1)">Fibrinogen</text>
<text font-size="6.0" text-anchor="middle" fill="#c8102e" stroke="#c8102e" stroke-width="0.3" transform="translate(391.00 347.10) scale(0.6078 1)">CRP</text>
<text font-size="6.0" text-anchor="middle" fill="#c8102e" stroke="#c8102e" stroke-width="0.3" transform="translate(415.40 337.90) scale(0.6702 1)">Fibrinogen</text>
<text font-size="6.0" text-anchor="middle" fill="#c8102e" stroke="#c8102e" stroke-width="0.3" transform="translate(415.40 347.10) scale(0.6421 1)">TRAP-6</text>
<text font-size="6.0" text-anchor="middle" fill="#c8102e" stroke="#c8102e" stroke-width="0.3" transform="translate(437.30 337.90) scale(0.7060 1)">P-selectin</text>
<text font-size="6.0" text-anchor="middle" fill="#c8102e" stroke="#c8102e" stroke-width="0.3" transform="translate(437.30 347.10) scale(0.5998 1)">ADP</text>
<text font-size="6.0" text-anchor="middle" fill="#c8102e" stroke="#c8102e" stroke-width="0.3" transform="translate(461.90 337.90) scale(0.7060 1)">P-selectin</text>
<text font-size="6.0" text-anchor="middle" fill="#c8102e" stroke="#c8102e" stroke-width="0.3" transform="translate(461.90 347.10) scale(0.6078 1)">CRP</text>
<text font-size="6.0" text-anchor="middle" fill="#c8102e" stroke="#c8102e" stroke-width="0.3" transform="translate(484.00 337.90) scale(0.7060 1)">P-selectin</text>
<text font-size="6.0" text-anchor="middle" fill="#c8102e" stroke="#c8102e" stroke-width="0.3" transform="translate(484.00 347.10) scale(0.6421 1)">TRAP-6</text>
<rect x="356.10" y="396.80" width="139.50" height="20.10" fill="#bfe3ea"/>
<text font-size="6.0" text-anchor="middle" fill="#c8102e" stroke="#c8102e" stroke-width="0.3" transform="translate(369.50 404.70) scale(0.6702 1)">Fibrinogen</text>
<text font-size="6.0" text-anchor="middle" fill="#c8102e" stroke="#c8102e" stroke-width="0.3" transform="translate(369.50 413.90) scale(0.5998 1)">ADP</text>
<text font-size="6.0" text-anchor="middle" fill="#c8102e" stroke="#c8102e" stroke-width="0.3" transform="translate(391.00 404.70) scale(0.6702 1)">Fibrinogen</text>
<text font-size="6.0" text-anchor="middle" fill="#c8102e" stroke="#c8102e" stroke-width="0.3" transform="translate(391.00 413.90) scale(0.6078 1)">CRP</text>
<text font-size="6.0" text-anchor="middle" fill="#c8102e" stroke="#c8102e" stroke-width="0.3" transform="translate(415.40 404.70) scale(0.6702 1)">Fibrinogen</text>
<text font-size="6.0" text-anchor="middle" fill="#c8102e" stroke="#c8102e" stroke-width="0.3" transform="translate(415.40 413.90) scale(0.6421 1)">TRAP-6</text>
<text font-size="6.0" text-anchor="middle" fill="#c8102e" stroke="#c8102e" stroke-width="0.3" transform="translate(437.30 404.70) scale(0.7060 1)">P-selectin</text>
<text font-size="6.0" text-anchor="middle" fill="#c8102e" stroke="#c8102e" stroke-width="0.3" transform="translate(437.30 413.90) scale(0.5998 1)">ADP</text>
<text font-size="6.0" text-anchor="middle" fill="#c8102e" stroke="#c8102e" stroke-width="0.3" transform="translate(461.90 404.70) scale(0.7060 1)">P-selectin</text>
<text font-size="6.0" text-anchor="middle" fill="#c8102e" stroke="#c8102e" stroke-width="0.3" transform="translate(461.90 413.90) scale(0.6078 1)">CRP</text>
<text font-size="6.0" text-anchor="middle" fill="#c8102e" stroke="#c8102e" stroke-width="0.3" transform="translate(484.00 404.70) scale(0.7060 1)">P-selectin</text>
<text font-size="6.0" text-anchor="middle" fill="#c8102e" stroke="#c8102e" stroke-width="0.3" transform="translate(484.00 413.90) scale(0.6421 1)">TRAP-6</text>
<rect x="357.30" y="357.90" width="17.00" height="3.80" fill="#33f015"/>
<rect x="378.90" y="357.90" width="22.20" height="4.30" fill="#c40018"/>
<rect x="404.40" y="358.70" width="19.00" height="3.00" fill="#0b36a8"/>
<rect x="432.10" y="357.00" width="9.90" height="6.40" fill="#0b36a8"/>
<rect x="449.80" y="358.40" width="22.10" height="3.80" fill="#c40018"/>
<rect x="475.40" y="359.10" width="18.50" height="2.80" fill="#33f015"/>
<rect x="363.00" y="422.10" width="5.90" height="13.00" fill="#0b36a8"/>
<rect x="387.20" y="423.50" width="5.70" height="10.40" fill="#33f015"/>
<rect x="410.00" y="421.20" width="3.20" height="14.70" fill="#1a1a99"/>
<rect x="435.00" y="422.20" width="3.20" height="11.80" fill="#1a1a99"/>
<rect x="457.50" y="419.10" width="4.20" height="19.90" fill="#c40018"/>
<rect x="482.10" y="417.90" width="3.10" height="21.60" fill="#33f015"/>
<text font-size="9.5" text-anchor="middle" fill="#111" stroke="#111" stroke-width="0.06" transform="translate(350.90 358.50) rotate(-90) scale(0.9821 1)">Capacity</text>
<text font-size="9.5" text-anchor="middle" fill="#111" stroke="#111" stroke-width="0.06" transform="translate(350.90 428.50) rotate(-90) scale(0.9821 1)">Capacity</text>
<text font-size="9.06" fill="#111" stroke="#111" stroke-width="0.06" transform="translate(402.80 379.30) scale(1.0004 1)">Sensitivity</text>
<text font-size="9.06" fill="#111" stroke="#111" stroke-width="0.06" transform="translate(402.80 447.60) scale(1.0004 1)">Sensitivity</text>
<text font-size="11" fill="#000" font-weight="bold" transform="translate(11.00 471.40)">D</text>
<text font-size="8.8" text-anchor="middle" fill="#111" stroke="#111" stroke-width="0.35" transform="translate(18.60 542.30) rotate(-90) scale(0.7360 1)">Measurement</text>
<text font-size="8.6" fill="#111" stroke="#111" stroke-width="0.35" transform="translate(281.10 649.60) scale(0.7530 1)">Agonist</text>
<path d="M60.10,522.40 C59.77,523.67 58.77,527.07 58.10,530.00 C57.43,532.93 56.63,537.00 56.10,540.00 C55.57,543.00 55.03,545.33 54.90,548.00 C54.77,550.67 55.03,553.17 55.30,556.00 C55.57,558.83 56.23,562.33 56.50,565.00 C56.77,567.67 56.57,569.83 56.90,572.00 C57.23,574.17 57.97,576.58 58.50,578.00 C59.03,579.42 59.83,580.08 60.10,580.50 L60.90,580.50 C61.17,580.08 61.97,579.42 62.50,578.00 C63.03,576.58 63.77,574.17 64.10,572.00 C64.43,569.83 64.23,567.67 64.50,565.00 C64.77,562.33 65.43,558.83 65.70,556.00 C65.97,553.17 66.23,550.67 66.10,548.00 C65.97,545.33 65.43,543.00 64.90,540.00 C64.37,537.00 63.57,532.93 62.90,530.00 C62.23,527.07 61.23,523.67 60.90,522.40 Z" fill="#ec7cbe" fill-opacity="0.92"/>
<circle cx="63.38" cy="548.33" r="0.95" fill="#1232b4"/>
<circle cx="63.65" cy="555.89" r="1.25" fill="none" stroke="#1232b4" stroke-width="1.05"/>
<circle cx="61.18" cy="528.27" r="1.25" fill="none" stroke="#1232b4" stroke-width="1.05"/>
<circle cx="54.00" cy="557.47" r="1.25" fill="none" stroke="#1232b4" stroke-width="1.05"/>
<circle cx="56.40" cy="533.65" r="1.25" fill="none" stroke="#1232b4" stroke-width="1.05"/>
<circle cx="62.69" cy="570.18" r="0.95" fill="#1232b4"/>
<circle cx="68.00" cy="548.61" r="1.25" fill="none" stroke="#1232b4" stroke-width="1.05"/>
<circle cx="53.89" cy="562.64" r="1.25" fill="none" stroke="#1232b4" stroke-width="1.05"/>
<circle cx="65.51" cy="565.91" r="1.25" fill="none" stroke="#1232b4" stroke-width="1.05"/>
<circle cx="61.15" cy="570.45" r="0.95" fill="#1232b4"/>
<circle cx="59.66" cy="566.60" r="1.25" fill="none" stroke="#1232b4" stroke-width="1.05"/>
<circle cx="53.00" cy="565.45" r="1.25" fill="none" stroke="#1232b4" stroke-width="1.05"/>
<circle cx="58.31" cy="567.63" r="1.25" fill="none" stroke="#1232b4" stroke-width="1.05"/>
<circle cx="58.19" cy="563.99" r="1.25" fill="none" stroke="#1232b4" stroke-width="1.05"/>
<circle cx="64.69" cy="534.92" r="1.25" fill="none" stroke="#1232b4" stroke-width="1.05"/>
<circle cx="63.33" cy="572.55" r="1.25" fill="none" stroke="#1232b4" stroke-width="1.05"/>
<circle cx="59.76" cy="534.94" r="1.25" fill="none" stroke="#1232b4" stroke-width="1.05"/>
<circle cx="59.97" cy="527.11" r="0.95" fill="#1232b4"/>
<circle cx="64.25" cy="543.82" r="1.25" fill="none" stroke="#1232b4" stroke-width="1.05"/>
<circle cx="63.26" cy="571.53" r="1.25" fill="none" stroke="#1232b4" stroke-width="1.05"/>
<circle cx="63.23" cy="536.97" r="1.25" fill="none" stroke="#1232b4" stroke-width="1.05"/>
<circle cx="57.64" cy="556.80" r="1.25" fill="none" stroke="#1232b4" stroke-width="1.05"/>
<circle cx="56.62" cy="556.40" r="0.95" fill="#1232b4"/>
<circle cx="62.29" cy="535.79" r="1.25" fill="none" stroke="#1232b4" stroke-width="1.05"/>
<circle cx="54.93" cy="574.37" r="0.95" fill="#1232b4"/>
<circle cx="57.40" cy="526.39" r="1.25" fill="none" stroke="#1232b4" stroke-width="1.05"/>
<circle cx="53.00" cy="561.71" r="1.25" fill="none" stroke="#1232b4" stroke-width="1.05"/>
<circle cx="63.03" cy="576.92" r="1.25" fill="none" stroke="#1232b4" stroke-width="1.05"/>
<circle cx="64.56" cy="564.28" r="1.25" fill="none" stroke="#1232b4" stroke-width="1.05"/>
<circle cx="65.77" cy="571.78" r="1.25" fill="none" stroke="#1232b4" stroke-width="1.05"/>
<circle cx="58.85" cy="558.00" r="0.95" fill="#1232b4"/>
<circle cx="63.11" cy="544.75" r="1.25" fill="none" stroke="#1232b4" stroke-width="1.05"/>
<circle cx="62.75" cy="549.93" r="1.25" fill="none" stroke="#1232b4" stroke-width="1.05"/>
<circle cx="56.81" cy="574.55" r="0.95" fill="#1232b4"/>
<circle cx="64.18" cy="534.34" r="1.25" fill="none" stroke="#1232b4" stroke-width="1.05"/>
<circle cx="59.02" cy="572.94" r="0.95" fill="#1232b4"/>
<circle cx="57.13" cy="572.30" r="0.95" fill="#1232b4"/>
<circle cx="67.82" cy="550.80" r="0.95" fill="#1232b4"/>
<circle cx="56.44" cy="538.50" r="1.25" fill="none" stroke="#1232b4" stroke-width="1.05"/>
<circle cx="61.58" cy="546.18" r="1.25" fill="none" stroke="#1232b4" stroke-width="1.05"/>
<circle cx="61.39" cy="527.18" r="1.25" fill="none" stroke="#1232b4" stroke-width="1.05"/>
<circle cx="56.49" cy="554.95" r="1.25" fill="none" stroke="#1232b4" stroke-width="1.05"/>
<circle cx="58.38" cy="548.47" r="0.95" fill="#1232b4"/>
<circle cx="67.18" cy="548.00" r="1.25" fill="none" stroke="#1232b4" stroke-width="1.05"/>
<circle cx="54.44" cy="561.33" r="0.95" fill="#1232b4"/>
<circle cx="55.40" cy="549.44" r="1.25" fill="none" stroke="#1232b4" stroke-width="1.05"/>
<circle cx="62.42" cy="562.05" r="0.95" fill="#1232b4"/>
<circle cx="64.05" cy="563.45" r="0.95" fill="#1232b4"/>
<circle cx="68.00" cy="544.10" r="1.25" fill="none" stroke="#1232b4" stroke-width="1.05"/>
<circle cx="62.28" cy="548.97" r="1.25" fill="none" stroke="#1232b4" stroke-width="1.05"/>
<circle cx="64.80" cy="558.93" r="1.25" fill="none" stroke="#1232b4" stroke-width="1.05"/>
<circle cx="64.95" cy="567.28" r="1.25" fill="none" stroke="#1232b4" stroke-width="1.05"/>
<circle cx="59.23" cy="553.82" r="1.25" fill="none" stroke="#1232b4" stroke-width="1.05"/>
<circle cx="57.43" cy="532.68" r="0.95" fill="#1232b4"/>
<circle cx="67.57" cy="551.93" r="0.95" fill="#1232b4"/>
<circle cx="55.67" cy="550.58" r="1.25" fill="none" stroke="#1232b4" stroke-width="1.05"/>
<circle cx="64.16" cy="539.25" r="1.25" fill="none" stroke="#1232b4" stroke-width="1.05"/>
<circle cx="65.05" cy="554.36" r="1.25" fill="none" stroke="#1232b4" stroke-width="1.05"/>
<line x1="60.50" y1="522.40" x2="60.50" y2="580.50" stroke="#d4184a" stroke-width="1.3"/>
<circle cx="60.50" cy="551.70" r="2.7" fill="#cc0018"/>
<path d="M77.60,504.00 C77.40,505.33 76.93,509.33 76.40,512.00 C75.87,514.67 75.07,517.00 74.40,520.00 C73.73,523.00 72.87,527.00 72.40,530.00 C71.93,533.00 71.60,535.33 71.60,538.00 C71.60,540.67 72.00,543.17 72.40,546.00 C72.80,548.83 73.47,552.33 74.00,555.00 C74.53,557.67 75.07,559.83 75.60,562.00 C76.13,564.17 76.93,567.00 77.20,568.00 L78.80,568.00 C79.07,567.00 79.87,564.17 80.40,562.00 C80.93,559.83 81.47,557.67 82.00,555.00 C82.53,552.33 83.20,548.83 83.60,546.00 C84.00,543.17 84.40,540.67 84.40,538.00 C84.40,535.33 84.07,533.00 83.60,530.00 C83.13,527.00 82.27,523.00 81.60,520.00 C80.93,517.00 80.13,514.67 79.60,512.00 C79.07,509.33 78.60,505.33 78.40,504.00 Z" fill="#ec7cbe" fill-opacity="0.92"/>
<circle cx="73.07" cy="536.42" r="1.25" fill="none" stroke="#1232b4" stroke-width="1.05"/>
<circle cx="82.37" cy="530.23" r="1.25" fill="none" stroke="#1232b4" stroke-width="1.05"/>
<circle cx="72.55" cy="541.61" r="0.95" fill="#1232b4"/>
<circle cx="78.58" cy="563.17" r="1.25" fill="none" stroke="#1232b4" stroke-width="1.05"/>
<circle cx="73.81" cy="527.89" r="0.95" fill="#1232b4"/>
<circle cx="73.44" cy="565.70" r="1.25" fill="none" stroke="#1232b4" stroke-width="1.05"/>
<circle cx="73.79" cy="545.53" r="1.25" fill="none" stroke="#1232b4" stroke-width="1.05"/>
<circle cx="77.94" cy="557.57" r="0.95" fill="#1232b4"/>
<circle cx="85.50" cy="530.84" r="1.25" fill="none" stroke="#1232b4" stroke-width="1.05"/>
<circle cx="79.65" cy="548.14" r="1.25" fill="none" stroke="#1232b4" stroke-width="1.05"/>
<circle cx="79.34" cy="514.06" r="1.25" fill="none" stroke="#1232b4" stroke-width="1.05"/>
<circle cx="79.97" cy="538.00" r="1.25" fill="none" stroke="#1232b4" stroke-width="1.05"/>
<circle cx="76.28" cy="520.77" r="1.25" fill="none" stroke="#1232b4" stroke-width="1.05"/>
<circle cx="74.44" cy="541.10" r="1.25" fill="none" stroke="#1232b4" stroke-width="1.05"/>
<circle cx="72.35" cy="528.34" r="1.25" fill="none" stroke="#1232b4" stroke-width="1.05"/>
<circle cx="84.49" cy="524.48" r="1.25" fill="none" stroke="#1232b4" stroke-width="1.05"/>
<circle cx="79.21" cy="529.58" r="1.25" fill="none" stroke="#1232b4" stroke-width="1.05"/>
<circle cx="71.97" cy="528.19" r="1.25" fill="none" stroke="#1232b4" stroke-width="1.05"/>
<circle cx="81.20" cy="538.22" r="0.95" fill="#1232b4"/>
<circle cx="78.95" cy="546.64" r="1.25" fill="none" stroke="#1232b4" stroke-width="1.05"/>
<circle cx="77.59" cy="562.45" r="0.95" fill="#1232b4"/>
<circle cx="72.59" cy="550.15" r="1.25" fill="none" stroke="#1232b4" stroke-width="1.05"/>
<circle cx="77.55" cy="549.36" r="1.25" fill="none" stroke="#1232b4" stroke-width="1.05"/>
<circle cx="82.82" cy="521.96" r="1.25" fill="none" stroke="#1232b4" stroke-width="1.05"/>
<circle cx="83.65" cy="554.15" r="1.25" fill="none" stroke="#1232b4" stroke-width="1.05"/>
<circle cx="79.22" cy="542.97" r="0.95" fill="#1232b4"/>
<circle cx="73.15" cy="540.17" r="1.25" fill="none" stroke="#1232b4" stroke-width="1.05"/>
<circle cx="76.41" cy="549.72" r="1.25" fill="none" stroke="#1232b4" stroke-width="1.05"/>
<circle cx="74.20" cy="550.44" r="1.25" fill="none" stroke="#1232b4" stroke-width="1.05"/>
<circle cx="75.09" cy="549.49" r="1.25" fill="none" stroke="#1232b4" stroke-width="1.05"/>
<circle cx="76.17" cy="534.51" r="1.25" fill="none" stroke="#1232b4" stroke-width="1.05"/>
<circle cx="78.52" cy="524.34" r="0.95" fill="#1232b4"/>
<circle cx="76.07" cy="538.06" r="1.25" fill="none" stroke="#1232b4" stroke-width="1.05"/>
<circle cx="82.68" cy="559.26" r="0.95" fill="#1232b4"/>
<circle cx="80.39" cy="521.11" r="0.95" fill="#1232b4"/>
<circle cx="77.31" cy="541.34" r="1.25" fill="none" stroke="#1232b4" stroke-width="1.05"/>
<circle cx="71.97" cy="537.99" r="1.25" fill="none" stroke="#1232b4" stroke-width="1.05"/>
<circle cx="75.35" cy="540.75" r="1.25" fill="none" stroke="#1232b4" stroke-width="1.05"/>
<circle cx="76.87" cy="531.12" r="0.95" fill="#1232b4"/>
<circle cx="80.21" cy="546.74" r="1.25" fill="none" stroke="#1232b4" stroke-width="1.05"/>
<circle cx="75.62" cy="545.30" r="0.95" fill="#1232b4"/>
<circle cx="71.69" cy="531.77" r="1.25" fill="none" stroke="#1232b4" stroke-width="1.05"/>
<circle cx="76.61" cy="529.25" r="0.95" fill="#1232b4"/>
<circle cx="75.92" cy="558.65" r="0.95" fill="#1232b4"/>
<circle cx="76.97" cy="525.39" r="1.25" fill="none" stroke="#1232b4" stroke-width="1.05"/>
<circle cx="79.23" cy="544.63" r="1.25" fill="none" stroke="#1232b4" stroke-width="1.05"/>
<circle cx="81.20" cy="539.71" r="1.25" fill="none" stroke="#1232b4" stroke-width="1.05"/>
<circle cx="76.70" cy="535.97" r="1.25" fill="none" stroke="#1232b4" stroke-width="1.05"/>
<circle cx="83.60" cy="551.33" r="1.25" fill="none" stroke="#1232b4" stroke-width="1.05"/>
<circle cx="79.94" cy="549.31" r="1.25" fill="none" stroke="#1232b4" stroke-width="1.05"/>
<circle cx="70.50" cy="559.02" r="1.25" fill="none" stroke="#1232b4" stroke-width="1.05"/>
<circle cx="74.72" cy="510.50" r="1.25" fill="none" stroke="#1232b4" stroke-width="1.05"/>
<circle cx="78.94" cy="565.88" r="1.25" fill="none" stroke="#1232b4" stroke-width="1.05"/>
<circle cx="71.80" cy="533.26" r="1.25" fill="none" stroke="#1232b4" stroke-width="1.05"/>
<circle cx="72.37" cy="544.21" r="1.25" fill="none" stroke="#1232b4" stroke-width="1.05"/>
<circle cx="83.32" cy="553.95" r="1.25" fill="none" stroke="#1232b4" stroke-width="1.05"/>
<circle cx="78.16" cy="537.07" r="0.95" fill="#1232b4"/>
<circle cx="76.41" cy="521.29" r="1.25" fill="none" stroke="#1232b4" stroke-width="1.05"/>
<line x1="78.00" y1="512.50" x2="78.00" y2="568.30" stroke="#d4184a" stroke-width="1.3"/>
<circle cx="78.00" cy="538.30" r="2.7" fill="#cc0018"/>
<path d="M94.60,537.00 C94.43,538.33 93.85,541.17 93.60,545.00 C93.35,548.83 93.35,555.83 93.10,560.00 C92.85,564.17 92.68,567.33 92.10,570.00 C91.52,572.67 90.35,574.00 89.60,576.00 C88.85,578.00 88.02,580.17 87.60,582.00 C87.18,583.83 86.85,585.75 87.10,587.00 C87.35,588.25 88.02,588.92 89.10,589.50 C90.18,590.08 92.85,590.33 93.60,590.50 L97.60,590.50 C98.35,590.33 101.02,590.08 102.10,589.50 C103.18,588.92 103.85,588.25 104.10,587.00 C104.35,585.75 104.02,583.83 103.60,582.00 C103.18,580.17 102.35,578.00 101.60,576.00 C100.85,574.00 99.68,572.67 99.10,570.00 C98.52,567.33 98.35,564.17 98.10,560.00 C97.85,555.83 97.85,548.83 97.60,545.00 C97.35,541.17 96.77,538.33 96.60,537.00 Z" fill="#ec7cbe" fill-opacity="0.92"/>
<circle cx="92.94" cy="546.84" r="1.25" fill="none" stroke="#1232b4" stroke-width="1.05"/>
<circle cx="94.20" cy="569.25" r="0.95" fill="#1232b4"/>
<circle cx="102.50" cy="579.92" r="1.25" fill="none" stroke="#1232b4" stroke-width="1.05"/>
<circle cx="99.60" cy="579.07" r="0.95" fill="#1232b4"/>
<circle cx="102.60" cy="553.63" r="0.95" fill="#1232b4"/>
<circle cx="96.01" cy="573.62" r="0.95" fill="#1232b4"/>
<circle cx="92.07" cy="560.50" r="0.95" fill="#1232b4"/>
<circle cx="91.96" cy="557.98" r="1.25" fill="none" stroke="#1232b4" stroke-width="1.05"/>
<circle cx="96.92" cy="587.54" r="0.95" fill="#1232b4"/>
<circle cx="95.20" cy="581.42" r="1.25" fill="none" stroke="#1232b4" stroke-width="1.05"/>
<circle cx="95.14" cy="583.97" r="1.25" fill="none" stroke="#1232b4" stroke-width="1.05"/>
<circle cx="101.00" cy="574.98" r="1.25" fill="none" stroke="#1232b4" stroke-width="1.05"/>
<circle cx="93.04" cy="555.18" r="1.25" fill="none" stroke="#1232b4" stroke-width="1.05"/>
<circle cx="96.76" cy="568.65" r="1.25" fill="none" stroke="#1232b4" stroke-width="1.05"/>
<circle cx="95.22" cy="572.48" r="1.25" fill="none" stroke="#1232b4" stroke-width="1.05"/>
<circle cx="97.57" cy="576.13" r="1.25" fill="none" stroke="#1232b4" stroke-width="1.05"/>
<circle cx="90.43" cy="568.16" r="1.25" fill="none" stroke="#1232b4" stroke-width="1.05"/>
<circle cx="93.86" cy="555.59" r="0.95" fill="#1232b4"/>
<circle cx="95.23" cy="568.79" r="1.25" fill="none" stroke="#1232b4" stroke-width="1.05"/>
<circle cx="91.28" cy="566.40" r="0.95" fill="#1232b4"/>
<circle cx="94.55" cy="582.77" r="1.25" fill="none" stroke="#1232b4" stroke-width="1.05"/>
<circle cx="91.75" cy="557.58" r="1.25" fill="none" stroke="#1232b4" stroke-width="1.05"/>
<circle cx="93.04" cy="565.91" r="1.25" fill="none" stroke="#1232b4" stroke-width="1.05"/>
<circle cx="101.15" cy="579.49" r="0.95" fill="#1232b4"/>
<circle cx="95.49" cy="584.57" r="1.25" fill="none" stroke="#1232b4" stroke-width="1.05"/>
<line x1="95.60" y1="543.30" x2="95.60" y2="604.20" stroke="#d4184a" stroke-width="1.3"/>
<circle cx="95.60" cy="573.30" r="2.7" fill="#cc0018"/>
<path d="M112.50,506.40 C112.23,507.83 111.43,511.90 110.90,515.00 C110.37,518.10 109.83,520.83 109.30,525.00 C108.77,529.17 108.03,536.17 107.70,540.00 C107.37,543.83 107.23,545.00 107.30,548.00 C107.37,551.00 107.70,554.67 108.10,558.00 C108.50,561.33 109.03,564.83 109.70,568.00 C110.37,571.17 111.70,575.50 112.10,577.00 L113.70,577.00 C114.10,575.50 115.43,571.17 116.10,568.00 C116.77,564.83 117.30,561.33 117.70,558.00 C118.10,554.67 118.43,551.00 118.50,548.00 C118.57,545.00 118.43,543.83 118.10,540.00 C117.77,536.17 117.03,529.17 116.50,525.00 C115.97,520.83 115.43,518.10 114.90,515.00 C114.37,511.90 113.57,507.83 113.30,506.40 Z" fill="#ec7cbe" fill-opacity="0.92"/>
<circle cx="114.51" cy="528.16" r="0.95" fill="#1232b4"/>
<circle cx="109.77" cy="555.84" r="1.25" fill="none" stroke="#1232b4" stroke-width="1.05"/>
<circle cx="114.51" cy="570.40" r="1.25" fill="none" stroke="#1232b4" stroke-width="1.05"/>
<circle cx="109.71" cy="554.49" r="1.25" fill="none" stroke="#1232b4" stroke-width="1.05"/>
<circle cx="120.07" cy="515.57" r="1.25" fill="none" stroke="#1232b4" stroke-width="1.05"/>
<circle cx="114.31" cy="539.39" r="0.95" fill="#1232b4"/>
<circle cx="110.03" cy="549.47" r="0.95" fill="#1232b4"/>
<circle cx="112.65" cy="544.42" r="0.95" fill="#1232b4"/>
<circle cx="110.34" cy="543.53" r="1.25" fill="none" stroke="#1232b4" stroke-width="1.05"/>
<circle cx="111.89" cy="555.92" r="0.95" fill="#1232b4"/>
<circle cx="113.53" cy="549.89" r="0.95" fill="#1232b4"/>
<circle cx="112.23" cy="572.91" r="1.25" fill="none" stroke="#1232b4" stroke-width="1.05"/>
<circle cx="112.94" cy="533.28" r="0.95" fill="#1232b4"/>
<circle cx="106.62" cy="541.44" r="0.95" fill="#1232b4"/>
<circle cx="104.40" cy="534.00" r="0.95" fill="#1232b4"/>
<circle cx="115.47" cy="527.72" r="0.95" fill="#1232b4"/>
<circle cx="117.82" cy="561.03" r="0.95" fill="#1232b4"/>
<circle cx="113.66" cy="560.74" r="1.25" fill="none" stroke="#1232b4" stroke-width="1.05"/>
<circle cx="115.16" cy="561.82" r="1.25" fill="none" stroke="#1232b4" stroke-width="1.05"/>
<circle cx="108.76" cy="532.74" r="1.25" fill="none" stroke="#1232b4" stroke-width="1.05"/>
<circle cx="111.85" cy="519.42" r="1.25" fill="none" stroke="#1232b4" stroke-width="1.05"/>
<circle cx="108.15" cy="562.60" r="1.25" fill="none" stroke="#1232b4" stroke-width="1.05"/>
<circle cx="113.23" cy="524.90" r="0.95" fill="#1232b4"/>
<circle cx="118.22" cy="553.99" r="1.25" fill="none" stroke="#1232b4" stroke-width="1.05"/>
<circle cx="115.85" cy="527.83" r="0.95" fill="#1232b4"/>
<circle cx="119.26" cy="546.34" r="1.25" fill="none" stroke="#1232b4" stroke-width="1.05"/>
<circle cx="110.72" cy="572.39" r="1.25" fill="none" stroke="#1232b4" stroke-width="1.05"/>
<circle cx="110.75" cy="535.40" r="0.95" fill="#1232b4"/>
<circle cx="113.03" cy="543.18" r="1.25" fill="none" stroke="#1232b4" stroke-width="1.05"/>
<circle cx="110.70" cy="555.64" r="1.25" fill="none" stroke="#1232b4" stroke-width="1.05"/>
<circle cx="111.35" cy="536.65" r="1.25" fill="none" stroke="#1232b4" stroke-width="1.05"/>
<circle cx="112.15" cy="565.96" r="1.25" fill="none" stroke="#1232b4" stroke-width="1.05"/>
<circle cx="117.59" cy="548.66" r="1.25" fill="none" stroke="#1232b4" stroke-width="1.05"/>
<circle cx="111.82" cy="538.06" r="0.95" fill="#1232b4"/>
<circle cx="105.33" cy="536.00" r="0.95" fill="#1232b4"/>
<circle cx="112.51" cy="526.52" r="1.25" fill="none" stroke="#1232b4" stroke-width="1.05"/>
<circle cx="115.76" cy="555.24" r="1.25" fill="none" stroke="#1232b4" stroke-width="1.05"/>
<circle cx="110.83" cy="551.88" r="1.25" fill="none" stroke="#1232b4" stroke-width="1.05"/>
<circle cx="113.52" cy="535.77" r="1.25" fill="none" stroke="#1232b4" stroke-width="1.05"/>
<circle cx="109.80" cy="543.36" r="1.25" fill="none" stroke="#1232b4" stroke-width="1.05"/>
<circle cx="114.46" cy="545.76" r="1.25" fill="none" stroke="#1232b4" stroke-width="1.05"/>
<circle cx="116.44" cy="552.55" r="1.25" fill="none" stroke="#1232b4" stroke-width="1.05"/>
<circle cx="115.38" cy="514.45" r="1.25" fill="none" stroke="#1232b4" stroke-width="1.05"/>
<circle cx="111.31" cy="536.99" r="1.25" fill="none" stroke="#1232b4" stroke-width="1.05"/>
<circle cx="118.40" cy="567.18" r="1.25" fill="none" stroke="#1232b4" stroke-width="1.05"/>
<circle cx="111.88" cy="538.96" r="0.95" fill="#1232b4"/>
<circle cx="112.75" cy="525.16" r="1.25" fill="none" stroke="#1232b4" stroke-width="1.05"/>
<circle cx="114.24" cy="539.38" r="0.95" fill="#1232b4"/>
<circle cx="111.55" cy="565.00" r="1.25" fill="none" stroke="#1232b4" stroke-width="1.05"/>
<circle cx="113.13" cy="560.37" r="1.25" fill="none" stroke="#1232b4" stroke-width="1.05"/>
<circle cx="108.11" cy="551.97" r="1.25" fill="none" stroke="#1232b4" stroke-width="1.05"/>
<circle cx="112.74" cy="547.28" r="0.95" fill="#1232b4"/>
<circle cx="114.57" cy="541.55" r="1.25" fill="none" stroke="#1232b4" stroke-width="1.05"/>
<circle cx="118.71" cy="532.70" r="1.25" fill="none" stroke="#1232b4" stroke-width="1.05"/>
<circle cx="104.92" cy="552.38" r="1.25" fill="none" stroke="#1232b4" stroke-width="1.05"/>
<circle cx="112.06" cy="535.22" r="0.95" fill="#1232b4"/>
<circle cx="114.79" cy="538.55" r="1.25" fill="none" stroke="#1232b4" stroke-width="1.05"/>
<circle cx="121.40" cy="565.22" r="0.95" fill="#1232b4"/>
<line x1="112.90" y1="517.50" x2="112.90" y2="576.70" stroke="#d4184a" stroke-width="1.3"/>
<circle cx="112.90" cy="547.50" r="2.7" fill="#cc0018"/>
<path d="M130.00,527.50 C129.73,529.58 128.87,535.42 128.40,540.00 C127.93,544.58 127.67,550.83 127.20,555.00 C126.73,559.17 126.07,561.67 125.60,565.00 C125.13,568.33 124.53,572.00 124.40,575.00 C124.27,578.00 124.20,580.50 124.80,583.00 C125.40,585.50 127.13,588.67 128.00,590.00 C128.87,591.33 129.67,590.83 130.00,591.00 L130.80,591.00 C131.13,590.83 131.93,591.33 132.80,590.00 C133.67,588.67 135.40,585.50 136.00,583.00 C136.60,580.50 136.53,578.00 136.40,575.00 C136.27,572.00 135.67,568.33 135.20,565.00 C134.73,561.67 134.07,559.17 133.60,555.00 C133.13,550.83 132.87,544.58 132.40,540.00 C131.93,535.42 131.07,529.58 130.80,527.50 Z" fill="#ec7cbe" fill-opacity="0.92"/>
<circle cx="133.16" cy="587.91" r="1.25" fill="none" stroke="#1232b4" stroke-width="1.05"/>
<circle cx="130.96" cy="570.88" r="1.25" fill="none" stroke="#1232b4" stroke-width="1.05"/>
<circle cx="129.31" cy="572.49" r="1.25" fill="none" stroke="#1232b4" stroke-width="1.05"/>
<circle cx="131.56" cy="582.47" r="0.95" fill="#1232b4"/>
<circle cx="130.36" cy="555.19" r="1.25" fill="none" stroke="#1232b4" stroke-width="1.05"/>
<circle cx="135.94" cy="585.81" r="0.95" fill="#1232b4"/>
<circle cx="132.58" cy="531.13" r="1.25" fill="none" stroke="#1232b4" stroke-width="1.05"/>
<circle cx="130.27" cy="573.14" r="1.25" fill="none" stroke="#1232b4" stroke-width="1.05"/>
<circle cx="133.04" cy="536.97" r="1.25" fill="none" stroke="#1232b4" stroke-width="1.05"/>
<circle cx="130.26" cy="554.09" r="1.25" fill="none" stroke="#1232b4" stroke-width="1.05"/>
<circle cx="134.37" cy="544.12" r="1.25" fill="none" stroke="#1232b4" stroke-width="1.05"/>
<circle cx="132.41" cy="550.17" r="1.25" fill="none" stroke="#1232b4" stroke-width="1.05"/>
<circle cx="131.91" cy="558.47" r="1.25" fill="none" stroke="#1232b4" stroke-width="1.05"/>
<circle cx="134.00" cy="547.23" r="1.25" fill="none" stroke="#1232b4" stroke-width="1.05"/>
<circle cx="127.36" cy="560.00" r="1.25" fill="none" stroke="#1232b4" stroke-width="1.05"/>
<circle cx="132.82" cy="580.62" r="1.25" fill="none" stroke="#1232b4" stroke-width="1.05"/>
<circle cx="122.90" cy="571.55" r="0.95" fill="#1232b4"/>
<circle cx="131.64" cy="568.91" r="1.25" fill="none" stroke="#1232b4" stroke-width="1.05"/>
<circle cx="137.77" cy="565.73" r="1.25" fill="none" stroke="#1232b4" stroke-width="1.05"/>
<circle cx="129.72" cy="583.55" r="1.25" fill="none" stroke="#1232b4" stroke-width="1.05"/>
<circle cx="130.88" cy="561.09" r="1.25" fill="none" stroke="#1232b4" stroke-width="1.05"/>
<circle cx="128.50" cy="584.78" r="1.25" fill="none" stroke="#1232b4" stroke-width="1.05"/>
<circle cx="127.44" cy="572.12" r="0.95" fill="#1232b4"/>
<circle cx="132.18" cy="573.73" r="1.25" fill="none" stroke="#1232b4" stroke-width="1.05"/>
<circle cx="128.08" cy="583.64" r="1.25" fill="none" stroke="#1232b4" stroke-width="1.05"/>
<circle cx="134.67" cy="562.87" r="0.95" fill="#1232b4"/>
<circle cx="133.16" cy="580.31" r="1.25" fill="none" stroke="#1232b4" stroke-width="1.05"/>
<circle cx="128.18" cy="552.13" r="0.95" fill="#1232b4"/>
<circle cx="131.43" cy="561.80" r="1.25" fill="none" stroke="#1232b4" stroke-width="1.05"/>
<circle cx="129.69" cy="554.47" r="1.25" fill="none" stroke="#1232b4" stroke-width="1.05"/>
<circle cx="126.42" cy="571.83" r="1.25" fill="none" stroke="#1232b4" stroke-width="1.05"/>
<circle cx="135.05" cy="570.62" r="1.25" fill="none" stroke="#1232b4" stroke-width="1.05"/>
<circle cx="129.23" cy="543.76" r="0.95" fill="#1232b4"/>
<circle cx="130.67" cy="560.08" r="1.25" fill="none" stroke="#1232b4" stroke-width="1.05"/>
<circle cx="135.10" cy="555.95" r="1.25" fill="none" stroke="#1232b4" stroke-width="1.05"/>
<circle cx="129.68" cy="586.84" r="0.95" fill="#1232b4"/>
<circle cx="126.38" cy="566.72" r="0.95" fill="#1232b4"/>
<circle cx="132.91" cy="577.33" r="1.25" fill="none" stroke="#1232b4" stroke-width="1.05"/>
<circle cx="133.18" cy="575.52" r="1.25" fill="none" stroke="#1232b4" stroke-width="1.05"/>
<circle cx="130.30" cy="561.19" r="1.25" fill="none" stroke="#1232b4" stroke-width="1.05"/>
<circle cx="133.07" cy="569.52" r="1.25" fill="none" stroke="#1232b4" stroke-width="1.05"/>
<circle cx="133.22" cy="556.99" r="0.95" fill="#1232b4"/>
<circle cx="132.34" cy="583.11" r="1.25" fill="none" stroke="#1232b4" stroke-width="1.05"/>
<circle cx="137.90" cy="544.43" r="0.95" fill="#1232b4"/>
<circle cx="132.99" cy="577.54" r="1.25" fill="none" stroke="#1232b4" stroke-width="1.05"/>
<circle cx="132.87" cy="572.05" r="1.25" fill="none" stroke="#1232b4" stroke-width="1.05"/>
<circle cx="131.72" cy="582.14" r="1.25" fill="none" stroke="#1232b4" stroke-width="1.05"/>
<circle cx="127.69" cy="535.79" r="1.25" fill="none" stroke="#1232b4" stroke-width="1.05"/>
<circle cx="131.49" cy="569.41" r="1.25" fill="none" stroke="#1232b4" stroke-width="1.05"/>
<circle cx="126.15" cy="544.33" r="1.25" fill="none" stroke="#1232b4" stroke-width="1.05"/>
<circle cx="129.23" cy="578.26" r="1.25" fill="none" stroke="#1232b4" stroke-width="1.05"/>
<circle cx="134.69" cy="586.96" r="0.95" fill="#1232b4"/>
<line x1="130.40" y1="539.00" x2="130.40" y2="599.00" stroke="#d4184a" stroke-width="1.3"/>
<circle cx="130.40" cy="568.70" r="2.7" fill="#cc0018"/>
<path d="M190.00,552.00 C189.58,553.33 188.25,557.00 187.50,560.00 C186.75,563.00 185.92,567.50 185.50,570.00 C185.08,572.50 184.83,573.00 185.00,575.00 C185.17,577.00 185.75,579.50 186.50,582.00 C187.25,584.50 189.00,588.67 189.50,590.00 L191.50,590.00 C192.00,588.67 193.75,584.50 194.50,582.00 C195.25,579.50 195.83,577.00 196.00,575.00 C196.17,573.00 195.92,572.50 195.50,570.00 C195.08,567.50 194.25,563.00 193.50,560.00 C192.75,557.00 191.42,553.33 191.00,552.00 Z" fill="#ec7cbe" fill-opacity="0.92"/>
<circle cx="192.49" cy="576.13" r="1.25" fill="none" stroke="#1232b4" stroke-width="1.05"/>
<circle cx="184.91" cy="571.47" r="1.25" fill="none" stroke="#1232b4" stroke-width="1.05"/>
<circle cx="188.98" cy="574.24" r="1.25" fill="none" stroke="#1232b4" stroke-width="1.05"/>
<circle cx="187.00" cy="575.40" r="0.95" fill="#1232b4"/>
<circle cx="187.45" cy="569.22" r="1.25" fill="none" stroke="#1232b4" stroke-width="1.05"/>
<circle cx="189.42" cy="580.99" r="1.25" fill="none" stroke="#1232b4" stroke-width="1.05"/>
<circle cx="195.03" cy="583.43" r="1.25" fill="none" stroke="#1232b4" stroke-width="1.05"/>
<circle cx="192.18" cy="565.88" r="1.25" fill="none" stroke="#1232b4" stroke-width="1.05"/>
<circle cx="194.94" cy="553.02" r="1.25" fill="none" stroke="#1232b4" stroke-width="1.05"/>
<circle cx="191.00" cy="570.68" r="1.25" fill="none" stroke="#1232b4" stroke-width="1.05"/>
<circle cx="185.47" cy="573.15" r="0.95" fill="#1232b4"/>
<circle cx="187.40" cy="587.23" r="1.25" fill="none" stroke="#1232b4" stroke-width="1.05"/>
<circle cx="195.26" cy="581.53" r="0.95" fill="#1232b4"/>
<circle cx="188.07" cy="574.44" r="1.25" fill="none" stroke="#1232b4" stroke-width="1.05"/>
<circle cx="191.43" cy="585.29" r="1.25" fill="none" stroke="#1232b4" stroke-width="1.05"/>
<circle cx="184.85" cy="570.36" r="1.25" fill="none" stroke="#1232b4" stroke-width="1.05"/>
<circle cx="189.29" cy="567.94" r="0.95" fill="#1232b4"/>
<circle cx="194.98" cy="570.20" r="0.95" fill="#1232b4"/>
<circle cx="191.70" cy="568.19" r="1.25" fill="none" stroke="#1232b4" stroke-width="1.05"/>
<circle cx="194.20" cy="588.25" r="1.25" fill="none" stroke="#1232b4" stroke-width="1.05"/>
<circle cx="195.34" cy="574.20" r="0.95" fill="#1232b4"/>
<circle cx="184.63" cy="557.07" r="1.25" fill="none" stroke="#1232b4" stroke-width="1.05"/>
<circle cx="189.60" cy="576.90" r="0.95" fill="#1232b4"/>
<circle cx="189.07" cy="560.35" r="0.95" fill="#1232b4"/>
<circle cx="195.90" cy="572.90" r="1.25" fill="none" stroke="#1232b4" stroke-width="1.05"/>
<circle cx="189.19" cy="582.05" r="1.25" fill="none" stroke="#1232b4" stroke-width="1.05"/>
<circle cx="191.12" cy="563.92" r="1.25" fill="none" stroke="#1232b4" stroke-width="1.05"/>
<circle cx="191.10" cy="563.21" r="1.25" fill="none" stroke="#1232b4" stroke-width="1.05"/>
<circle cx="193.72" cy="574.84" r="0.95" fill="#1232b4"/>
<circle cx="190.12" cy="578.58" r="0.95" fill="#1232b4"/>
<circle cx="191.43" cy="556.09" r="1.25" fill="none" stroke="#1232b4" stroke-width="1.05"/>
<circle cx="188.03" cy="569.03" r="1.25" fill="none" stroke="#1232b4" stroke-width="1.05"/>
<circle cx="185.32" cy="571.66" r="1.25" fill="none" stroke="#1232b4" stroke-width="1.05"/>
<circle cx="195.18" cy="568.49" r="1.25" fill="none" stroke="#1232b4" stroke-width="1.05"/>
<circle cx="190.53" cy="569.33" r="1.25" fill="none" stroke="#1232b4" stroke-width="1.05"/>
<circle cx="191.69" cy="588.60" r="0.95" fill="#1232b4"/>
<circle cx="195.06" cy="575.82" r="1.25" fill="none" stroke="#1232b4" stroke-width="1.05"/>
<circle cx="193.12" cy="577.95" r="1.25" fill="none" stroke="#1232b4" stroke-width="1.05"/>
<circle cx="187.46" cy="589.59" r="1.25" fill="none" stroke="#1232b4" stroke-width="1.05"/>
<circle cx="192.80" cy="569.57" r="0.95" fill="#1232b4"/>
<circle cx="192.97" cy="564.74" r="1.25" fill="none" stroke="#1232b4" stroke-width="1.05"/>
<circle cx="191.63" cy="564.24" r="1.25" fill="none" stroke="#1232b4" stroke-width="1.05"/>
<circle cx="192.67" cy="562.54" r="0.95" fill="#1232b4"/>
<circle cx="186.30" cy="575.45" r="1.25" fill="none" stroke="#1232b4" stroke-width="1.05"/>
<circle cx="185.14" cy="578.62" r="1.25" fill="none" stroke="#1232b4" stroke-width="1.05"/>
<circle cx="189.87" cy="563.74" r="1.25" fill="none" stroke="#1232b4" stroke-width="1.05"/>
<circle cx="188.25" cy="572.12" r="1.25" fill="none" stroke="#1232b4" stroke-width="1.05"/>
<circle cx="190.89" cy="585.58" r="1.25" fill="none" stroke="#1232b4" stroke-width="1.05"/>
<circle cx="187.76" cy="580.38" r="1.25" fill="none" stroke="#1232b4" stroke-width="1.05"/>
<circle cx="191.19" cy="575.05" r="1.25" fill="none" stroke="#1232b4" stroke-width="1.05"/>
<circle cx="192.48" cy="562.25" r="1.25" fill="none" stroke="#1232b4" stroke-width="1.05"/>
<circle cx="189.74" cy="554.70" r="0.95" fill="#1232b4"/>
<circle cx="188.70" cy="562.25" r="1.25" fill="none" stroke="#1232b4" stroke-width="1.05"/>
<circle cx="190.96" cy="576.82" r="1.25" fill="none" stroke="#1232b4" stroke-width="1.05"/>
<circle cx="189.44" cy="567.52" r="1.25" fill="none" stroke="#1232b4" stroke-width="1.05"/>
<circle cx="186.89" cy="583.44" r="1.25" fill="none" stroke="#1232b4" stroke-width="1.05"/>
<circle cx="189.65" cy="575.87" r="0.95" fill="#1232b4"/>
<circle cx="190.90" cy="575.32" r="0.95" fill="#1232b4"/>
<line x1="190.50" y1="552.00" x2="190.50" y2="590.00" stroke="#d4184a" stroke-width="1.3"/>
<circle cx="190.50" cy="571.70" r="2.7" fill="#cc0018"/>
<path d="M207.50,507.00 C207.25,508.33 206.58,512.00 206.00,515.00 C205.42,518.00 204.50,522.17 204.00,525.00 C203.50,527.83 203.00,529.50 203.00,532.00 C203.00,534.50 203.58,537.33 204.00,540.00 C204.42,542.67 205.00,546.00 205.50,548.00 C206.00,550.00 206.75,551.33 207.00,552.00 L209.00,552.00 C209.25,551.33 210.00,550.00 210.50,548.00 C211.00,546.00 211.58,542.67 212.00,540.00 C212.42,537.33 213.00,534.50 213.00,532.00 C213.00,529.50 212.50,527.83 212.00,525.00 C211.50,522.17 210.58,518.00 210.00,515.00 C209.42,512.00 208.75,508.33 208.50,507.00 Z" fill="#ec7cbe" fill-opacity="0.92"/>
<circle cx="206.16" cy="550.08" r="1.25" fill="none" stroke="#1232b4" stroke-width="1.05"/>
<circle cx="214.50" cy="520.69" r="1.25" fill="none" stroke="#1232b4" stroke-width="1.05"/>
<circle cx="209.77" cy="538.57" r="1.25" fill="none" stroke="#1232b4" stroke-width="1.05"/>
<circle cx="213.04" cy="532.81" r="1.25" fill="none" stroke="#1232b4" stroke-width="1.05"/>
<circle cx="208.17" cy="538.13" r="0.95" fill="#1232b4"/>
<circle cx="209.12" cy="535.94" r="1.25" fill="none" stroke="#1232b4" stroke-width="1.05"/>
<circle cx="211.06" cy="529.29" r="1.25" fill="none" stroke="#1232b4" stroke-width="1.05"/>
<circle cx="207.85" cy="520.14" r="1.25" fill="none" stroke="#1232b4" stroke-width="1.05"/>
<circle cx="206.68" cy="530.98" r="0.95" fill="#1232b4"/>
<circle cx="213.62" cy="525.86" r="1.25" fill="none" stroke="#1232b4" stroke-width="1.05"/>
<circle cx="208.71" cy="524.43" r="1.25" fill="none" stroke="#1232b4" stroke-width="1.05"/>
<circle cx="202.25" cy="522.06" r="0.95" fill="#1232b4"/>
<circle cx="208.27" cy="530.63" r="0.95" fill="#1232b4"/>
<circle cx="208.67" cy="527.19" r="1.25" fill="none" stroke="#1232b4" stroke-width="1.05"/>
<circle cx="209.77" cy="527.76" r="0.95" fill="#1232b4"/>
<circle cx="207.75" cy="543.71" r="1.25" fill="none" stroke="#1232b4" stroke-width="1.05"/>
<circle cx="206.73" cy="535.19" r="1.25" fill="none" stroke="#1232b4" stroke-width="1.05"/>
<circle cx="207.61" cy="518.37" r="1.25" fill="none" stroke="#1232b4" stroke-width="1.05"/>
<circle cx="206.89" cy="515.95" r="1.25" fill="none" stroke="#1232b4" stroke-width="1.05"/>
<circle cx="214.25" cy="515.55" r="0.95" fill="#1232b4"/>
<circle cx="205.33" cy="545.05" r="0.95" fill="#1232b4"/>
<circle cx="204.51" cy="540.51" r="0.95" fill="#1232b4"/>
<circle cx="209.34" cy="518.25" r="0.95" fill="#1232b4"/>
<circle cx="205.77" cy="535.71" r="1.25" fill="none" stroke="#1232b4" stroke-width="1.05"/>
<circle cx="207.39" cy="528.39" r="1.25" fill="none" stroke="#1232b4" stroke-width="1.05"/>
<circle cx="212.69" cy="535.45" r="1.25" fill="none" stroke="#1232b4" stroke-width="1.05"/>
<circle cx="206.59" cy="529.59" r="1.25" fill="none" stroke="#1232b4" stroke-width="1.05"/>
<circle cx="211.03" cy="529.45" r="1.25" fill="none" stroke="#1232b4" stroke-width="1.05"/>
<circle cx="204.94" cy="541.04" r="1.25" fill="none" stroke="#1232b4" stroke-width="1.05"/>
<circle cx="211.27" cy="550.60" r="1.25" fill="none" stroke="#1232b4" stroke-width="1.05"/>
<circle cx="208.99" cy="530.25" r="0.95" fill="#1232b4"/>
<circle cx="208.76" cy="510.53" r="1.25" fill="none" stroke="#1232b4" stroke-width="1.05"/>
<circle cx="209.22" cy="547.83" r="0.95" fill="#1232b4"/>
<circle cx="203.86" cy="542.84" r="0.95" fill="#1232b4"/>
<circle cx="204.01" cy="519.72" r="1.25" fill="none" stroke="#1232b4" stroke-width="1.05"/>
<circle cx="206.40" cy="521.28" r="0.95" fill="#1232b4"/>
<circle cx="213.52" cy="543.41" r="1.25" fill="none" stroke="#1232b4" stroke-width="1.05"/>
<circle cx="209.14" cy="523.24" r="0.95" fill="#1232b4"/>
<circle cx="201.71" cy="511.90" r="1.25" fill="none" stroke="#1232b4" stroke-width="1.05"/>
<circle cx="203.54" cy="542.86" r="1.25" fill="none" stroke="#1232b4" stroke-width="1.05"/>
<circle cx="208.27" cy="527.11" r="0.95" fill="#1232b4"/>
<circle cx="201.50" cy="536.85" r="1.25" fill="none" stroke="#1232b4" stroke-width="1.05"/>
<circle cx="209.49" cy="541.80" r="1.25" fill="none" stroke="#1232b4" stroke-width="1.05"/>
<circle cx="210.27" cy="532.92" r="1.25" fill="none" stroke="#1232b4" stroke-width="1.05"/>
<circle cx="205.73" cy="521.52" r="1.25" fill="none" stroke="#1232b4" stroke-width="1.05"/>
<circle cx="210.37" cy="543.86" r="1.25" fill="none" stroke="#1232b4" stroke-width="1.05"/>
<circle cx="207.47" cy="530.38" r="0.95" fill="#1232b4"/>
<circle cx="212.09" cy="531.48" r="0.95" fill="#1232b4"/>
<circle cx="206.62" cy="532.70" r="1.25" fill="none" stroke="#1232b4" stroke-width="1.05"/>
<circle cx="205.81" cy="538.84" r="1.25" fill="none" stroke="#1232b4" stroke-width="1.05"/>
<circle cx="207.42" cy="518.00" r="1.25" fill="none" stroke="#1232b4" stroke-width="1.05"/>
<circle cx="205.00" cy="513.39" r="0.95" fill="#1232b4"/>
<circle cx="209.42" cy="517.68" r="1.25" fill="none" stroke="#1232b4" stroke-width="1.05"/>
<circle cx="205.06" cy="516.50" r="0.95" fill="#1232b4"/>
<circle cx="207.32" cy="530.88" r="0.95" fill="#1232b4"/>
<circle cx="206.45" cy="539.69" r="1.25" fill="none" stroke="#1232b4" stroke-width="1.05"/>
<circle cx="211.00" cy="521.81" r="1.25" fill="none" stroke="#1232b4" stroke-width="1.05"/>
<circle cx="207.28" cy="529.52" r="0.95" fill="#1232b4"/>
<line x1="208.00" y1="507.00" x2="208.00" y2="551.70" stroke="#d4184a" stroke-width="1.3"/>
<circle cx="208.00" cy="532.50" r="2.7" fill="#cc0018"/>
<path d="M223.70,556.50 C223.70,557.42 223.77,560.08 223.70,562.00 C223.63,563.92 223.57,566.33 223.30,568.00 C223.03,569.67 222.68,570.33 222.10,572.00 C221.52,573.67 220.52,576.00 219.80,578.00 C219.08,580.00 218.32,582.17 217.80,584.00 C217.28,585.83 216.82,587.83 216.70,589.00 C216.58,590.17 216.33,590.47 217.10,591.00 C217.87,591.53 220.60,592.00 221.30,592.20 L229.30,592.20 C230.00,592.00 232.73,591.53 233.50,591.00 C234.27,590.47 234.02,590.17 233.90,589.00 C233.78,587.83 233.32,585.83 232.80,584.00 C232.28,582.17 231.52,580.00 230.80,578.00 C230.08,576.00 229.08,573.67 228.50,572.00 C227.92,570.33 227.57,569.67 227.30,568.00 C227.03,566.33 226.97,563.92 226.90,562.00 C226.83,560.08 226.90,557.42 226.90,556.50 Z" fill="#ec7cbe" fill-opacity="0.92"/>
<circle cx="221.90" cy="556.30" r="1.25" fill="none" stroke="#1232b4" stroke-width="1.05"/>
<circle cx="230.50" cy="568.40" r="1.25" fill="none" stroke="#1232b4" stroke-width="1.05"/>
<line x1="225.30" y1="562.00" x2="225.30" y2="603.70" stroke="#d4184a" stroke-width="1.3"/>
<circle cx="225.30" cy="582.80" r="2.7" fill="#cc0018"/>
<path d="M242.50,503.70 C242.25,505.58 241.67,510.95 241.00,515.00 C240.33,519.05 239.08,524.67 238.50,528.00 C237.92,531.33 237.42,532.17 237.50,535.00 C237.58,537.83 238.42,542.00 239.00,545.00 C239.58,548.00 240.42,550.78 241.00,553.00 C241.58,555.22 242.25,557.42 242.50,558.30 L243.50,558.30 C243.75,557.42 244.42,555.22 245.00,553.00 C245.58,550.78 246.42,548.00 247.00,545.00 C247.58,542.00 248.42,537.83 248.50,535.00 C248.58,532.17 248.08,531.33 247.50,528.00 C246.92,524.67 245.67,519.05 245.00,515.00 C244.33,510.95 243.75,505.58 243.50,503.70 Z" fill="#ec7cbe" fill-opacity="0.92"/>
<circle cx="248.38" cy="543.40" r="1.25" fill="none" stroke="#1232b4" stroke-width="1.05"/>
<circle cx="245.02" cy="528.54" r="1.25" fill="none" stroke="#1232b4" stroke-width="1.05"/>
<circle cx="240.80" cy="549.69" r="1.25" fill="none" stroke="#1232b4" stroke-width="1.05"/>
<circle cx="243.41" cy="552.42" r="1.25" fill="none" stroke="#1232b4" stroke-width="1.05"/>
<circle cx="244.77" cy="550.57" r="1.25" fill="none" stroke="#1232b4" stroke-width="1.05"/>
<circle cx="241.60" cy="531.20" r="1.25" fill="none" stroke="#1232b4" stroke-width="1.05"/>
<circle cx="248.20" cy="556.61" r="1.25" fill="none" stroke="#1232b4" stroke-width="1.05"/>
<circle cx="243.24" cy="533.20" r="1.25" fill="none" stroke="#1232b4" stroke-width="1.05"/>
<circle cx="244.13" cy="539.38" r="1.25" fill="none" stroke="#1232b4" stroke-width="1.05"/>
<circle cx="240.93" cy="549.08" r="0.95" fill="#1232b4"/>
<circle cx="238.80" cy="551.33" r="1.25" fill="none" stroke="#1232b4" stroke-width="1.05"/>
<circle cx="244.97" cy="521.57" r="1.25" fill="none" stroke="#1232b4" stroke-width="1.05"/>
<circle cx="239.80" cy="533.56" r="1.25" fill="none" stroke="#1232b4" stroke-width="1.05"/>
<circle cx="246.67" cy="521.06" r="1.25" fill="none" stroke="#1232b4" stroke-width="1.05"/>
<circle cx="242.98" cy="538.98" r="0.95" fill="#1232b4"/>
<circle cx="243.37" cy="527.22" r="1.25" fill="none" stroke="#1232b4" stroke-width="1.05"/>
<circle cx="240.55" cy="545.29" r="1.25" fill="none" stroke="#1232b4" stroke-width="1.05"/>
<circle cx="247.46" cy="529.52" r="1.25" fill="none" stroke="#1232b4" stroke-width="1.05"/>
<circle cx="237.38" cy="552.66" r="0.95" fill="#1232b4"/>
<circle cx="247.68" cy="548.70" r="1.25" fill="none" stroke="#1232b4" stroke-width="1.05"/>
<circle cx="238.45" cy="547.07" r="0.95" fill="#1232b4"/>
<circle cx="242.07" cy="531.31" r="1.25" fill="none" stroke="#1232b4" stroke-width="1.05"/>
<circle cx="250.00" cy="539.36" r="1.25" fill="none" stroke="#1232b4" stroke-width="1.05"/>
<circle cx="241.32" cy="523.09" r="1.25" fill="none" stroke="#1232b4" stroke-width="1.05"/>
<circle cx="248.43" cy="518.21" r="1.25" fill="none" stroke="#1232b4" stroke-width="1.05"/>
<circle cx="241.36" cy="517.58" r="0.95" fill="#1232b4"/>
<circle cx="244.96" cy="534.88" r="1.25" fill="none" stroke="#1232b4" stroke-width="1.05"/>
<circle cx="244.51" cy="513.25" r="1.25" fill="none" stroke="#1232b4" stroke-width="1.05"/>
<circle cx="244.59" cy="517.00" r="1.25" fill="none" stroke="#1232b4" stroke-width="1.05"/>
<circle cx="244.59" cy="517.63" r="0.95" fill="#1232b4"/>
<circle cx="247.29" cy="554.81" r="0.95" fill="#1232b4"/>
<circle cx="248.27" cy="524.32" r="1.25" fill="none" stroke="#1232b4" stroke-width="1.05"/>
<circle cx="244.53" cy="522.63" r="1.25" fill="none" stroke="#1232b4" stroke-width="1.05"/>
<circle cx="238.71" cy="528.78" r="1.25" fill="none" stroke="#1232b4" stroke-width="1.05"/>
<circle cx="243.70" cy="524.05" r="0.95" fill="#1232b4"/>
<circle cx="247.94" cy="512.49" r="1.25" fill="none" stroke="#1232b4" stroke-width="1.05"/>
<circle cx="240.46" cy="537.38" r="0.95" fill="#1232b4"/>
<circle cx="243.68" cy="551.08" r="1.25" fill="none" stroke="#1232b4" stroke-width="1.05"/>
<circle cx="239.60" cy="552.25" r="1.25" fill="none" stroke="#1232b4" stroke-width="1.05"/>
<circle cx="242.16" cy="523.56" r="1.25" fill="none" stroke="#1232b4" stroke-width="1.05"/>
<circle cx="244.01" cy="515.66" r="0.95" fill="#1232b4"/>
<circle cx="239.00" cy="530.18" r="1.25" fill="none" stroke="#1232b4" stroke-width="1.05"/>
<circle cx="243.40" cy="529.91" r="1.25" fill="none" stroke="#1232b4" stroke-width="1.05"/>
<circle cx="239.33" cy="533.44" r="1.25" fill="none" stroke="#1232b4" stroke-width="1.05"/>
<circle cx="245.59" cy="534.54" r="0.95" fill="#1232b4"/>
<circle cx="241.23" cy="537.84" r="1.25" fill="none" stroke="#1232b4" stroke-width="1.05"/>
<circle cx="243.17" cy="546.08" r="1.25" fill="none" stroke="#1232b4" stroke-width="1.05"/>
<circle cx="245.33" cy="531.69" r="0.95" fill="#1232b4"/>
<circle cx="240.31" cy="547.19" r="1.25" fill="none" stroke="#1232b4" stroke-width="1.05"/>
<circle cx="236.02" cy="533.26" r="1.25" fill="none" stroke="#1232b4" stroke-width="1.05"/>
<circle cx="241.44" cy="546.53" r="0.95" fill="#1232b4"/>
<circle cx="243.77" cy="531.37" r="0.95" fill="#1232b4"/>
<circle cx="243.79" cy="532.65" r="1.25" fill="none" stroke="#1232b4" stroke-width="1.05"/>
<circle cx="236.93" cy="528.00" r="1.25" fill="none" stroke="#1232b4" stroke-width="1.05"/>
<circle cx="243.13" cy="538.47" r="1.25" fill="none" stroke="#1232b4" stroke-width="1.05"/>
<circle cx="246.77" cy="553.34" r="0.95" fill="#1232b4"/>
<circle cx="246.60" cy="532.26" r="0.95" fill="#1232b4"/>
<circle cx="247.79" cy="523.70" r="0.95" fill="#1232b4"/>
<line x1="243.00" y1="503.70" x2="243.00" y2="558.30" stroke="#d4184a" stroke-width="1.3"/>
<circle cx="243.00" cy="535.00" r="2.7" fill="#cc0018"/>
<path d="M259.80,523.30 C259.47,526.08 258.38,534.55 257.80,540.00 C257.22,545.45 256.38,551.00 256.30,556.00 C256.22,561.00 256.97,565.17 257.30,570.00 C257.63,574.83 257.88,581.38 258.30,585.00 C258.72,588.62 259.55,590.58 259.80,591.70 L260.80,591.70 C261.05,590.58 261.88,588.62 262.30,585.00 C262.72,581.38 262.97,574.83 263.30,570.00 C263.63,565.17 264.38,561.00 264.30,556.00 C264.22,551.00 263.38,545.45 262.80,540.00 C262.22,534.55 261.13,526.08 260.80,523.30 Z" fill="#ec7cbe" fill-opacity="0.92"/>
<circle cx="260.67" cy="581.20" r="0.95" fill="#1232b4"/>
<circle cx="258.98" cy="588.76" r="1.25" fill="none" stroke="#1232b4" stroke-width="1.05"/>
<circle cx="265.70" cy="580.42" r="1.25" fill="none" stroke="#1232b4" stroke-width="1.05"/>
<circle cx="260.64" cy="535.48" r="0.95" fill="#1232b4"/>
<circle cx="258.03" cy="566.89" r="1.25" fill="none" stroke="#1232b4" stroke-width="1.05"/>
<circle cx="257.31" cy="558.53" r="1.25" fill="none" stroke="#1232b4" stroke-width="1.05"/>
<circle cx="259.72" cy="579.39" r="0.95" fill="#1232b4"/>
<circle cx="259.26" cy="557.10" r="1.25" fill="none" stroke="#1232b4" stroke-width="1.05"/>
<circle cx="262.85" cy="542.52" r="1.25" fill="none" stroke="#1232b4" stroke-width="1.05"/>
<circle cx="258.04" cy="554.55" r="1.25" fill="none" stroke="#1232b4" stroke-width="1.05"/>
<circle cx="261.46" cy="527.43" r="1.25" fill="none" stroke="#1232b4" stroke-width="1.05"/>
<circle cx="260.09" cy="575.13" r="1.25" fill="none" stroke="#1232b4" stroke-width="1.05"/>
<circle cx="258.49" cy="565.69" r="1.25" fill="none" stroke="#1232b4" stroke-width="1.05"/>
<circle cx="262.40" cy="554.57" r="0.95" fill="#1232b4"/>
<circle cx="263.09" cy="551.79" r="1.25" fill="none" stroke="#1232b4" stroke-width="1.05"/>
<circle cx="257.52" cy="538.84" r="1.25" fill="none" stroke="#1232b4" stroke-width="1.05"/>
<circle cx="254.61" cy="578.99" r="1.25" fill="none" stroke="#1232b4" stroke-width="1.05"/>
<circle cx="261.25" cy="582.70" r="0.95" fill="#1232b4"/>
<circle cx="254.75" cy="571.37" r="1.25" fill="none" stroke="#1232b4" stroke-width="1.05"/>
<circle cx="261.24" cy="563.96" r="1.25" fill="none" stroke="#1232b4" stroke-width="1.05"/>
<circle cx="258.95" cy="584.57" r="1.25" fill="none" stroke="#1232b4" stroke-width="1.05"/>
<circle cx="260.71" cy="570.67" r="1.25" fill="none" stroke="#1232b4" stroke-width="1.05"/>
<circle cx="260.81" cy="542.60" r="1.25" fill="none" stroke="#1232b4" stroke-width="1.05"/>
<circle cx="264.01" cy="558.60" r="1.25" fill="none" stroke="#1232b4" stroke-width="1.05"/>
<circle cx="255.98" cy="546.58" r="1.25" fill="none" stroke="#1232b4" stroke-width="1.05"/>
<circle cx="263.96" cy="557.65" r="1.25" fill="none" stroke="#1232b4" stroke-width="1.05"/>
<circle cx="252.80" cy="547.84" r="1.25" fill="none" stroke="#1232b4" stroke-width="1.05"/>
<circle cx="261.59" cy="563.20" r="1.25" fill="none" stroke="#1232b4" stroke-width="1.05"/>
<circle cx="261.84" cy="590.92" r="1.25" fill="none" stroke="#1232b4" stroke-width="1.05"/>
<circle cx="257.61" cy="574.70" r="1.25" fill="none" stroke="#1232b4" stroke-width="1.05"/>
<circle cx="262.52" cy="535.31" r="0.95" fill="#1232b4"/>
<circle cx="260.07" cy="569.64" r="1.25" fill="none" stroke="#1232b4" stroke-width="1.05"/>
<circle cx="255.06" cy="560.26" r="1.25" fill="none" stroke="#1232b4" stroke-width="1.05"/>
<circle cx="259.06" cy="553.91" r="1.25" fill="none" stroke="#1232b4" stroke-width="1.05"/>
<circle cx="257.40" cy="577.35" r="1.25" fill="none" stroke="#1232b4" stroke-width="1.05"/>
<circle cx="260.10" cy="591.51" r="1.25" fill="none" stroke="#1232b4" stroke-width="1.05"/>
<circle cx="258.31" cy="535.20" r="1.25" fill="none" stroke="#1232b4" stroke-width="1.05"/>
<circle cx="264.86" cy="573.80" r="1.25" fill="none" stroke="#1232b4" stroke-width="1.05"/>
<circle cx="262.18" cy="553.76" r="1.25" fill="none" stroke="#1232b4" stroke-width="1.05"/>
<circle cx="256.09" cy="526.24" r="1.25" fill="none" stroke="#1232b4" stroke-width="1.05"/>
<circle cx="256.93" cy="577.76" r="1.25" fill="none" stroke="#1232b4" stroke-width="1.05"/>
<circle cx="258.25" cy="587.98" r="1.25" fill="none" stroke="#1232b4" stroke-width="1.05"/>
<circle cx="261.86" cy="557.03" r="1.25" fill="none" stroke="#1232b4" stroke-width="1.05"/>
<circle cx="256.92" cy="552.34" r="1.25" fill="none" stroke="#1232b4" stroke-width="1.05"/>
<circle cx="265.38" cy="563.93" r="1.25" fill="none" stroke="#1232b4" stroke-width="1.05"/>
<circle cx="257.81" cy="559.31" r="1.25" fill="none" stroke="#1232b4" stroke-width="1.05"/>
<circle cx="262.25" cy="581.89" r="1.25" fill="none" stroke="#1232b4" stroke-width="1.05"/>
<circle cx="259.43" cy="548.50" r="0.95" fill="#1232b4"/>
<circle cx="260.94" cy="591.42" r="0.95" fill="#1232b4"/>
<circle cx="254.54" cy="552.47" r="0.95" fill="#1232b4"/>
<circle cx="259.11" cy="580.85" r="1.25" fill="none" stroke="#1232b4" stroke-width="1.05"/>
<line x1="260.30" y1="523.30" x2="260.30" y2="591.70" stroke="#d4184a" stroke-width="1.3"/>
<circle cx="260.30" cy="557.50" r="2.7" fill="#cc0018"/>
<path d="M311.00,532.50 C310.58,533.75 309.08,537.42 308.50,540.00 C307.92,542.58 307.58,545.50 307.50,548.00 C307.42,550.50 307.75,552.17 308.00,555.00 C308.25,557.83 308.50,561.50 309.00,565.00 C309.50,568.50 310.67,574.17 311.00,576.00 L312.00,576.00 C312.33,574.17 313.50,568.50 314.00,565.00 C314.50,561.50 314.75,557.83 315.00,555.00 C315.25,552.17 315.58,550.50 315.50,548.00 C315.42,545.50 315.08,542.58 314.50,540.00 C313.92,537.42 312.42,533.75 312.00,532.50 Z" fill="#ec7cbe" fill-opacity="0.92"/>
<circle cx="309.30" cy="560.04" r="1.25" fill="none" stroke="#1232b4" stroke-width="1.05"/>
<circle cx="308.42" cy="554.65" r="1.25" fill="none" stroke="#1232b4" stroke-width="1.05"/>
<circle cx="310.22" cy="566.05" r="1.25" fill="none" stroke="#1232b4" stroke-width="1.05"/>
<circle cx="314.26" cy="569.96" r="1.25" fill="none" stroke="#1232b4" stroke-width="1.05"/>
<circle cx="311.82" cy="556.23" r="1.25" fill="none" stroke="#1232b4" stroke-width="1.05"/>
<circle cx="312.66" cy="555.54" r="1.25" fill="none" stroke="#1232b4" stroke-width="1.05"/>
<circle cx="316.03" cy="556.27" r="1.25" fill="none" stroke="#1232b4" stroke-width="1.05"/>
<circle cx="310.71" cy="562.33" r="1.25" fill="none" stroke="#1232b4" stroke-width="1.05"/>
<circle cx="312.53" cy="572.82" r="1.25" fill="none" stroke="#1232b4" stroke-width="1.05"/>
<circle cx="313.20" cy="549.30" r="1.25" fill="none" stroke="#1232b4" stroke-width="1.05"/>
<circle cx="306.87" cy="547.35" r="0.95" fill="#1232b4"/>
<circle cx="314.43" cy="548.63" r="1.25" fill="none" stroke="#1232b4" stroke-width="1.05"/>
<circle cx="319.50" cy="563.48" r="1.25" fill="none" stroke="#1232b4" stroke-width="1.05"/>
<circle cx="310.31" cy="556.74" r="0.95" fill="#1232b4"/>
<circle cx="307.33" cy="544.26" r="1.25" fill="none" stroke="#1232b4" stroke-width="1.05"/>
<circle cx="309.10" cy="568.51" r="0.95" fill="#1232b4"/>
<circle cx="319.50" cy="546.45" r="1.25" fill="none" stroke="#1232b4" stroke-width="1.05"/>
<circle cx="315.63" cy="558.53" r="1.25" fill="none" stroke="#1232b4" stroke-width="1.05"/>
<circle cx="305.92" cy="566.69" r="1.25" fill="none" stroke="#1232b4" stroke-width="1.05"/>
<circle cx="309.51" cy="560.21" r="1.25" fill="none" stroke="#1232b4" stroke-width="1.05"/>
<circle cx="314.04" cy="553.55" r="1.25" fill="none" stroke="#1232b4" stroke-width="1.05"/>
<circle cx="312.44" cy="556.52" r="0.95" fill="#1232b4"/>
<circle cx="303.50" cy="544.80" r="0.95" fill="#1232b4"/>
<circle cx="315.33" cy="551.33" r="1.25" fill="none" stroke="#1232b4" stroke-width="1.05"/>
<circle cx="316.13" cy="535.98" r="1.25" fill="none" stroke="#1232b4" stroke-width="1.05"/>
<circle cx="303.80" cy="565.81" r="0.95" fill="#1232b4"/>
<circle cx="307.94" cy="555.02" r="0.95" fill="#1232b4"/>
<circle cx="310.05" cy="548.04" r="1.25" fill="none" stroke="#1232b4" stroke-width="1.05"/>
<circle cx="310.21" cy="548.84" r="0.95" fill="#1232b4"/>
<circle cx="312.60" cy="550.57" r="1.25" fill="none" stroke="#1232b4" stroke-width="1.05"/>
<circle cx="305.50" cy="535.69" r="1.25" fill="none" stroke="#1232b4" stroke-width="1.05"/>
<circle cx="319.01" cy="558.76" r="1.25" fill="none" stroke="#1232b4" stroke-width="1.05"/>
<circle cx="308.70" cy="548.40" r="0.95" fill="#1232b4"/>
<circle cx="307.22" cy="539.50" r="0.95" fill="#1232b4"/>
<circle cx="311.46" cy="549.76" r="1.25" fill="none" stroke="#1232b4" stroke-width="1.05"/>
<circle cx="318.00" cy="566.03" r="1.25" fill="none" stroke="#1232b4" stroke-width="1.05"/>
<circle cx="310.39" cy="570.42" r="1.25" fill="none" stroke="#1232b4" stroke-width="1.05"/>
<circle cx="312.11" cy="557.61" r="1.25" fill="none" stroke="#1232b4" stroke-width="1.05"/>
<circle cx="305.77" cy="559.07" r="1.25" fill="none" stroke="#1232b4" stroke-width="1.05"/>
<circle cx="314.11" cy="543.44" r="1.25" fill="none" stroke="#1232b4" stroke-width="1.05"/>
<circle cx="312.31" cy="562.51" r="1.25" fill="none" stroke="#1232b4" stroke-width="1.05"/>
<circle cx="310.68" cy="557.86" r="1.25" fill="none" stroke="#1232b4" stroke-width="1.05"/>
<circle cx="305.90" cy="567.66" r="1.25" fill="none" stroke="#1232b4" stroke-width="1.05"/>
<circle cx="308.70" cy="557.10" r="0.95" fill="#1232b4"/>
<circle cx="313.51" cy="545.94" r="0.95" fill="#1232b4"/>
<circle cx="313.10" cy="555.92" r="1.25" fill="none" stroke="#1232b4" stroke-width="1.05"/>
<circle cx="306.53" cy="570.47" r="0.95" fill="#1232b4"/>
<line x1="311.50" y1="532.50" x2="311.50" y2="576.00" stroke="#d4184a" stroke-width="1.3"/>
<circle cx="311.50" cy="554.20" r="2.7" fill="#cc0018"/>
<path d="M328.50,517.30 C328.17,518.58 326.92,521.22 326.50,525.00 C326.08,528.78 326.08,535.00 326.00,540.00 C325.92,545.00 325.92,550.00 326.00,555.00 C326.08,560.00 326.08,564.90 326.50,570.00 C326.92,575.10 328.17,583.00 328.50,585.60 L329.50,585.60 C329.83,583.00 331.08,575.10 331.50,570.00 C331.92,564.90 331.92,560.00 332.00,555.00 C332.08,550.00 332.08,545.00 332.00,540.00 C331.92,535.00 331.92,528.78 331.50,525.00 C331.08,521.22 329.83,518.58 329.50,517.30 Z" fill="#ec7cbe" fill-opacity="0.92"/>
<circle cx="330.54" cy="561.55" r="1.25" fill="none" stroke="#1232b4" stroke-width="1.05"/>
<circle cx="327.68" cy="558.09" r="0.95" fill="#1232b4"/>
<circle cx="334.39" cy="562.26" r="1.25" fill="none" stroke="#1232b4" stroke-width="1.05"/>
<circle cx="324.22" cy="542.03" r="1.25" fill="none" stroke="#1232b4" stroke-width="1.05"/>
<circle cx="337.00" cy="573.60" r="1.25" fill="none" stroke="#1232b4" stroke-width="1.05"/>
<circle cx="321.00" cy="555.35" r="1.25" fill="none" stroke="#1232b4" stroke-width="1.05"/>
<circle cx="321.00" cy="559.99" r="0.95" fill="#1232b4"/>
<circle cx="321.69" cy="553.39" r="1.25" fill="none" stroke="#1232b4" stroke-width="1.05"/>
<circle cx="330.70" cy="544.10" r="1.25" fill="none" stroke="#1232b4" stroke-width="1.05"/>
<circle cx="332.20" cy="579.87" r="1.25" fill="none" stroke="#1232b4" stroke-width="1.05"/>
<circle cx="324.93" cy="546.80" r="1.25" fill="none" stroke="#1232b4" stroke-width="1.05"/>
<circle cx="328.87" cy="549.69" r="1.25" fill="none" stroke="#1232b4" stroke-width="1.05"/>
<circle cx="326.98" cy="532.47" r="0.95" fill="#1232b4"/>
<circle cx="323.37" cy="557.40" r="1.25" fill="none" stroke="#1232b4" stroke-width="1.05"/>
<circle cx="321.00" cy="550.40" r="1.25" fill="none" stroke="#1232b4" stroke-width="1.05"/>
<circle cx="337.00" cy="565.40" r="1.25" fill="none" stroke="#1232b4" stroke-width="1.05"/>
<circle cx="332.91" cy="524.42" r="1.25" fill="none" stroke="#1232b4" stroke-width="1.05"/>
<circle cx="325.99" cy="555.75" r="1.25" fill="none" stroke="#1232b4" stroke-width="1.05"/>
<circle cx="332.59" cy="552.86" r="1.25" fill="none" stroke="#1232b4" stroke-width="1.05"/>
<circle cx="329.82" cy="546.41" r="1.25" fill="none" stroke="#1232b4" stroke-width="1.05"/>
<circle cx="329.56" cy="554.21" r="1.25" fill="none" stroke="#1232b4" stroke-width="1.05"/>
<circle cx="333.37" cy="554.75" r="0.95" fill="#1232b4"/>
<circle cx="324.04" cy="580.77" r="1.25" fill="none" stroke="#1232b4" stroke-width="1.05"/>
<circle cx="322.15" cy="548.64" r="1.25" fill="none" stroke="#1232b4" stroke-width="1.05"/>
<circle cx="329.58" cy="546.54" r="1.25" fill="none" stroke="#1232b4" stroke-width="1.05"/>
<circle cx="331.07" cy="521.62" r="1.25" fill="none" stroke="#1232b4" stroke-width="1.05"/>
<circle cx="326.31" cy="555.58" r="1.25" fill="none" stroke="#1232b4" stroke-width="1.05"/>
<circle cx="335.01" cy="551.32" r="1.25" fill="none" stroke="#1232b4" stroke-width="1.05"/>
<circle cx="328.12" cy="555.37" r="1.25" fill="none" stroke="#1232b4" stroke-width="1.05"/>
<circle cx="330.19" cy="542.58" r="1.25" fill="none" stroke="#1232b4" stroke-width="1.05"/>
<circle cx="325.82" cy="529.45" r="0.95" fill="#1232b4"/>
<circle cx="323.30" cy="562.14" r="1.25" fill="none" stroke="#1232b4" stroke-width="1.05"/>
<circle cx="337.00" cy="564.73" r="0.95" fill="#1232b4"/>
<circle cx="330.21" cy="544.69" r="0.95" fill="#1232b4"/>
<circle cx="334.02" cy="549.77" r="1.25" fill="none" stroke="#1232b4" stroke-width="1.05"/>
<circle cx="327.30" cy="554.12" r="1.25" fill="none" stroke="#1232b4" stroke-width="1.05"/>
<circle cx="332.64" cy="546.52" r="0.95" fill="#1232b4"/>
<circle cx="327.33" cy="553.83" r="1.25" fill="none" stroke="#1232b4" stroke-width="1.05"/>
<circle cx="333.03" cy="556.45" r="1.25" fill="none" stroke="#1232b4" stroke-width="1.05"/>
<circle cx="330.00" cy="558.81" r="1.25" fill="none" stroke="#1232b4" stroke-width="1.05"/>
<circle cx="321.20" cy="560.86" r="1.25" fill="none" stroke="#1232b4" stroke-width="1.05"/>
<circle cx="328.68" cy="561.15" r="1.25" fill="none" stroke="#1232b4" stroke-width="1.05"/>
<circle cx="326.95" cy="540.72" r="0.95" fill="#1232b4"/>
<circle cx="329.63" cy="581.93" r="1.25" fill="none" stroke="#1232b4" stroke-width="1.05"/>
<circle cx="328.69" cy="564.76" r="1.25" fill="none" stroke="#1232b4" stroke-width="1.05"/>
<circle cx="334.52" cy="564.53" r="1.25" fill="none" stroke="#1232b4" stroke-width="1.05"/>
<circle cx="328.09" cy="553.89" r="1.25" fill="none" stroke="#1232b4" stroke-width="1.05"/>
<line x1="329.00" y1="523.70" x2="329.00" y2="585.60" stroke="#d4184a" stroke-width="1.3"/>
<circle cx="329.00" cy="554.20" r="2.7" fill="#cc0018"/>
<path d="M345.40,503.70 C345.23,508.08 344.65,521.45 344.40,530.00 C344.15,538.55 343.90,546.67 343.90,555.00 C343.90,563.33 344.07,571.85 344.40,580.00 C344.73,588.15 345.65,599.92 345.90,603.90 L346.90,603.90 C347.15,599.92 348.07,588.15 348.40,580.00 C348.73,571.85 348.90,563.33 348.90,555.00 C348.90,546.67 348.65,538.55 348.40,530.00 C348.15,521.45 347.57,508.08 347.40,503.70 Z" fill="#ec7cbe" fill-opacity="0.92"/>
<circle cx="348.07" cy="523.51" r="1.25" fill="none" stroke="#1232b4" stroke-width="1.05"/>
<circle cx="349.69" cy="539.68" r="1.25" fill="none" stroke="#1232b4" stroke-width="1.05"/>
<circle cx="349.77" cy="534.95" r="1.25" fill="none" stroke="#1232b4" stroke-width="1.05"/>
<circle cx="349.95" cy="527.08" r="0.95" fill="#1232b4"/>
<circle cx="344.07" cy="547.66" r="1.25" fill="none" stroke="#1232b4" stroke-width="1.05"/>
<circle cx="349.84" cy="573.78" r="1.25" fill="none" stroke="#1232b4" stroke-width="1.05"/>
<circle cx="342.03" cy="581.69" r="1.25" fill="none" stroke="#1232b4" stroke-width="1.05"/>
<circle cx="346.25" cy="540.84" r="0.95" fill="#1232b4"/>
<circle cx="340.90" cy="586.02" r="1.25" fill="none" stroke="#1232b4" stroke-width="1.05"/>
<circle cx="341.69" cy="530.04" r="1.25" fill="none" stroke="#1232b4" stroke-width="1.05"/>
<circle cx="339.40" cy="546.15" r="1.25" fill="none" stroke="#1232b4" stroke-width="1.05"/>
<circle cx="351.00" cy="576.84" r="0.95" fill="#1232b4"/>
<circle cx="339.59" cy="563.91" r="0.95" fill="#1232b4"/>
<circle cx="340.79" cy="563.77" r="1.25" fill="none" stroke="#1232b4" stroke-width="1.05"/>
<circle cx="345.52" cy="539.10" r="1.25" fill="none" stroke="#1232b4" stroke-width="1.05"/>
<circle cx="344.12" cy="532.36" r="0.95" fill="#1232b4"/>
<circle cx="348.19" cy="530.93" r="1.25" fill="none" stroke="#1232b4" stroke-width="1.05"/>
<circle cx="343.02" cy="556.97" r="1.25" fill="none" stroke="#1232b4" stroke-width="1.05"/>
<circle cx="345.45" cy="534.12" r="1.25" fill="none" stroke="#1232b4" stroke-width="1.05"/>
<circle cx="345.85" cy="549.43" r="1.25" fill="none" stroke="#1232b4" stroke-width="1.05"/>
<line x1="346.40" y1="503.70" x2="346.40" y2="603.90" stroke="#d4184a" stroke-width="1.3"/>
<circle cx="346.40" cy="554.20" r="2.7" fill="#cc0018"/>
<path d="M363.70,532.50 C363.28,534.58 362.28,541.58 361.20,545.00 C360.12,548.42 358.03,550.83 357.20,553.00 C356.37,555.17 355.87,556.00 356.20,558.00 C356.53,560.00 358.20,562.17 359.20,565.00 C360.20,567.83 361.45,571.72 362.20,575.00 C362.95,578.28 363.45,583.08 363.70,584.70 L364.70,584.70 C364.95,583.08 365.45,578.28 366.20,575.00 C366.95,571.72 368.20,567.83 369.20,565.00 C370.20,562.17 371.87,560.00 372.20,558.00 C372.53,556.00 372.03,555.17 371.20,553.00 C370.37,550.83 368.28,548.42 367.20,545.00 C366.12,541.58 365.12,534.58 364.70,532.50 Z" fill="#ec7cbe" fill-opacity="0.92"/>
<circle cx="372.20" cy="538.53" r="1.25" fill="none" stroke="#1232b4" stroke-width="1.05"/>
<circle cx="366.04" cy="551.32" r="0.95" fill="#1232b4"/>
<circle cx="359.87" cy="552.35" r="1.25" fill="none" stroke="#1232b4" stroke-width="1.05"/>
<circle cx="369.15" cy="559.22" r="1.25" fill="none" stroke="#1232b4" stroke-width="1.05"/>
<circle cx="365.33" cy="557.85" r="1.25" fill="none" stroke="#1232b4" stroke-width="1.05"/>
<circle cx="370.56" cy="556.40" r="1.25" fill="none" stroke="#1232b4" stroke-width="1.05"/>
<circle cx="360.76" cy="547.69" r="1.25" fill="none" stroke="#1232b4" stroke-width="1.05"/>
<circle cx="364.76" cy="546.65" r="1.25" fill="none" stroke="#1232b4" stroke-width="1.05"/>
<circle cx="369.19" cy="546.15" r="0.95" fill="#1232b4"/>
<circle cx="361.95" cy="558.37" r="1.25" fill="none" stroke="#1232b4" stroke-width="1.05"/>
<circle cx="367.86" cy="548.83" r="0.95" fill="#1232b4"/>
<circle cx="362.64" cy="579.81" r="0.95" fill="#1232b4"/>
<circle cx="360.43" cy="552.28" r="0.95" fill="#1232b4"/>
<circle cx="357.74" cy="552.82" r="1.25" fill="none" stroke="#1232b4" stroke-width="1.05"/>
<circle cx="360.61" cy="562.85" r="1.25" fill="none" stroke="#1232b4" stroke-width="1.05"/>
<circle cx="366.02" cy="558.26" r="0.95" fill="#1232b4"/>
<circle cx="370.64" cy="582.65" r="1.25" fill="none" stroke="#1232b4" stroke-width="1.05"/>
<circle cx="363.36" cy="557.23" r="0.95" fill="#1232b4"/>
<circle cx="366.93" cy="551.01" r="1.25" fill="none" stroke="#1232b4" stroke-width="1.05"/>
<circle cx="366.59" cy="547.86" r="0.95" fill="#1232b4"/>
<circle cx="359.25" cy="561.54" r="1.25" fill="none" stroke="#1232b4" stroke-width="1.05"/>
<circle cx="369.37" cy="553.91" r="1.25" fill="none" stroke="#1232b4" stroke-width="1.05"/>
<circle cx="368.71" cy="553.98" r="1.25" fill="none" stroke="#1232b4" stroke-width="1.05"/>
<circle cx="369.36" cy="572.67" r="1.25" fill="none" stroke="#1232b4" stroke-width="1.05"/>
<circle cx="366.93" cy="560.97" r="0.95" fill="#1232b4"/>
<circle cx="365.92" cy="553.72" r="1.25" fill="none" stroke="#1232b4" stroke-width="1.05"/>
<circle cx="368.13" cy="566.45" r="1.25" fill="none" stroke="#1232b4" stroke-width="1.05"/>
<circle cx="362.89" cy="538.97" r="0.95" fill="#1232b4"/>
<circle cx="364.11" cy="542.24" r="1.25" fill="none" stroke="#1232b4" stroke-width="1.05"/>
<circle cx="369.00" cy="554.70" r="1.25" fill="none" stroke="#1232b4" stroke-width="1.05"/>
<circle cx="369.19" cy="546.14" r="1.25" fill="none" stroke="#1232b4" stroke-width="1.05"/>
<circle cx="368.40" cy="556.62" r="1.25" fill="none" stroke="#1232b4" stroke-width="1.05"/>
<circle cx="368.28" cy="560.60" r="1.25" fill="none" stroke="#1232b4" stroke-width="1.05"/>
<circle cx="367.58" cy="560.24" r="0.95" fill="#1232b4"/>
<circle cx="363.08" cy="556.42" r="0.95" fill="#1232b4"/>
<circle cx="363.57" cy="581.89" r="1.25" fill="none" stroke="#1232b4" stroke-width="1.05"/>
<circle cx="371.60" cy="548.60" r="0.95" fill="#1232b4"/>
<circle cx="358.11" cy="564.19" r="1.25" fill="none" stroke="#1232b4" stroke-width="1.05"/>
<circle cx="360.54" cy="556.45" r="1.25" fill="none" stroke="#1232b4" stroke-width="1.05"/>
<circle cx="370.84" cy="534.87" r="0.95" fill="#1232b4"/>
<circle cx="361.96" cy="539.84" r="1.25" fill="none" stroke="#1232b4" stroke-width="1.05"/>
<circle cx="371.29" cy="549.11" r="1.25" fill="none" stroke="#1232b4" stroke-width="1.05"/>
<line x1="364.20" y1="536.80" x2="364.20" y2="580.40" stroke="#d4184a" stroke-width="1.3"/>
<circle cx="364.20" cy="554.20" r="2.7" fill="#cc0018"/>
<path d="M381.30,521.50 C381.05,523.75 380.47,530.25 379.80,535.00 C379.13,539.75 377.80,546.17 377.30,550.00 C376.80,553.83 376.55,555.00 376.80,558.00 C377.05,561.00 378.05,564.85 378.80,568.00 C379.55,571.15 380.88,575.42 381.30,576.90 L382.30,576.90 C382.72,575.42 384.05,571.15 384.80,568.00 C385.55,564.85 386.55,561.00 386.80,558.00 C387.05,555.00 386.80,553.83 386.30,550.00 C385.80,546.17 384.47,539.75 383.80,535.00 C383.13,530.25 382.55,523.75 382.30,521.50 Z" fill="#ec7cbe" fill-opacity="0.92"/>
<circle cx="384.88" cy="535.13" r="1.25" fill="none" stroke="#1232b4" stroke-width="1.05"/>
<circle cx="387.83" cy="548.18" r="1.25" fill="none" stroke="#1232b4" stroke-width="1.05"/>
<circle cx="380.70" cy="555.05" r="0.95" fill="#1232b4"/>
<circle cx="383.35" cy="526.60" r="1.25" fill="none" stroke="#1232b4" stroke-width="1.05"/>
<circle cx="378.87" cy="555.94" r="0.95" fill="#1232b4"/>
<circle cx="377.63" cy="553.70" r="1.25" fill="none" stroke="#1232b4" stroke-width="1.05"/>
<circle cx="378.58" cy="551.02" r="0.95" fill="#1232b4"/>
<circle cx="373.80" cy="560.45" r="1.25" fill="none" stroke="#1232b4" stroke-width="1.05"/>
<circle cx="387.91" cy="566.90" r="1.25" fill="none" stroke="#1232b4" stroke-width="1.05"/>
<circle cx="378.31" cy="546.07" r="0.95" fill="#1232b4"/>
<circle cx="386.82" cy="528.33" r="1.25" fill="none" stroke="#1232b4" stroke-width="1.05"/>
<circle cx="386.05" cy="536.68" r="0.95" fill="#1232b4"/>
<circle cx="385.48" cy="563.74" r="1.25" fill="none" stroke="#1232b4" stroke-width="1.05"/>
<circle cx="378.41" cy="560.94" r="0.95" fill="#1232b4"/>
<circle cx="376.22" cy="559.12" r="1.25" fill="none" stroke="#1232b4" stroke-width="1.05"/>
<circle cx="379.89" cy="532.77" r="1.25" fill="none" stroke="#1232b4" stroke-width="1.05"/>
<circle cx="380.30" cy="567.14" r="0.95" fill="#1232b4"/>
<circle cx="379.56" cy="543.85" r="1.25" fill="none" stroke="#1232b4" stroke-width="1.05"/>
<circle cx="377.67" cy="542.95" r="1.25" fill="none" stroke="#1232b4" stroke-width="1.05"/>
<circle cx="380.47" cy="558.49" r="1.25" fill="none" stroke="#1232b4" stroke-width="1.05"/>
<circle cx="383.93" cy="546.38" r="1.25" fill="none" stroke="#1232b4" stroke-width="1.05"/>
<circle cx="377.93" cy="548.08" r="1.25" fill="none" stroke="#1232b4" stroke-width="1.05"/>
<circle cx="383.24" cy="536.49" r="0.95" fill="#1232b4"/>
<circle cx="381.42" cy="558.78" r="0.95" fill="#1232b4"/>
<circle cx="381.77" cy="558.45" r="1.25" fill="none" stroke="#1232b4" stroke-width="1.05"/>
<circle cx="380.81" cy="543.43" r="1.25" fill="none" stroke="#1232b4" stroke-width="1.05"/>
<circle cx="382.40" cy="554.39" r="0.95" fill="#1232b4"/>
<circle cx="385.53" cy="563.59" r="0.95" fill="#1232b4"/>
<circle cx="385.17" cy="573.94" r="1.25" fill="none" stroke="#1232b4" stroke-width="1.05"/>
<circle cx="388.79" cy="533.46" r="0.95" fill="#1232b4"/>
<circle cx="376.29" cy="551.32" r="1.25" fill="none" stroke="#1232b4" stroke-width="1.05"/>
<circle cx="381.37" cy="553.76" r="1.25" fill="none" stroke="#1232b4" stroke-width="1.05"/>
<circle cx="380.63" cy="562.85" r="0.95" fill="#1232b4"/>
<circle cx="381.49" cy="538.78" r="1.25" fill="none" stroke="#1232b4" stroke-width="1.05"/>
<circle cx="380.82" cy="560.04" r="1.25" fill="none" stroke="#1232b4" stroke-width="1.05"/>
<circle cx="382.04" cy="546.57" r="0.95" fill="#1232b4"/>
<circle cx="377.32" cy="550.51" r="1.25" fill="none" stroke="#1232b4" stroke-width="1.05"/>
<circle cx="382.83" cy="560.28" r="0.95" fill="#1232b4"/>
<circle cx="388.05" cy="553.90" r="0.95" fill="#1232b4"/>
<line x1="381.80" y1="533.30" x2="381.80" y2="576.00" stroke="#d4184a" stroke-width="1.3"/>
<circle cx="381.80" cy="554.20" r="2.7" fill="#cc0018"/>
<path d="M431.00,540.60 C430.58,542.17 429.08,546.77 428.50,550.00 C427.92,553.23 427.67,556.67 427.50,560.00 C427.33,563.33 427.33,566.67 427.50,570.00 C427.67,573.33 427.92,576.53 428.50,580.00 C429.08,583.47 430.58,589.00 431.00,590.80 L432.00,590.80 C432.42,589.00 433.92,583.47 434.50,580.00 C435.08,576.53 435.33,573.33 435.50,570.00 C435.67,566.67 435.67,563.33 435.50,560.00 C435.33,556.67 435.08,553.23 434.50,550.00 C433.92,546.77 432.42,542.17 432.00,540.60 Z" fill="#ec7cbe" fill-opacity="0.92"/>
<circle cx="432.64" cy="558.63" r="1.25" fill="none" stroke="#1232b4" stroke-width="1.05"/>
<circle cx="432.42" cy="570.91" r="0.95" fill="#1232b4"/>
<circle cx="437.17" cy="563.19" r="1.25" fill="none" stroke="#1232b4" stroke-width="1.05"/>
<circle cx="426.02" cy="549.38" r="1.25" fill="none" stroke="#1232b4" stroke-width="1.05"/>
<circle cx="430.30" cy="563.78" r="1.25" fill="none" stroke="#1232b4" stroke-width="1.05"/>
<circle cx="432.84" cy="557.84" r="1.25" fill="none" stroke="#1232b4" stroke-width="1.05"/>
<circle cx="432.11" cy="569.53" r="1.25" fill="none" stroke="#1232b4" stroke-width="1.05"/>
<circle cx="433.00" cy="557.96" r="1.25" fill="none" stroke="#1232b4" stroke-width="1.05"/>
<circle cx="427.81" cy="552.42" r="0.95" fill="#1232b4"/>
<circle cx="435.38" cy="559.08" r="1.25" fill="none" stroke="#1232b4" stroke-width="1.05"/>
<circle cx="429.48" cy="560.22" r="1.25" fill="none" stroke="#1232b4" stroke-width="1.05"/>
<circle cx="424.62" cy="557.75" r="1.25" fill="none" stroke="#1232b4" stroke-width="1.05"/>
<circle cx="432.31" cy="553.03" r="0.95" fill="#1232b4"/>
<circle cx="434.09" cy="564.48" r="0.95" fill="#1232b4"/>
<circle cx="424.00" cy="550.06" r="0.95" fill="#1232b4"/>
<circle cx="431.65" cy="580.88" r="1.25" fill="none" stroke="#1232b4" stroke-width="1.05"/>
<circle cx="432.75" cy="546.40" r="1.25" fill="none" stroke="#1232b4" stroke-width="1.05"/>
<circle cx="436.78" cy="564.96" r="1.25" fill="none" stroke="#1232b4" stroke-width="1.05"/>
<circle cx="430.87" cy="548.55" r="1.25" fill="none" stroke="#1232b4" stroke-width="1.05"/>
<circle cx="432.90" cy="559.74" r="1.25" fill="none" stroke="#1232b4" stroke-width="1.05"/>
<circle cx="429.14" cy="553.84" r="0.95" fill="#1232b4"/>
<circle cx="436.50" cy="573.52" r="1.25" fill="none" stroke="#1232b4" stroke-width="1.05"/>
<circle cx="432.93" cy="558.60" r="1.25" fill="none" stroke="#1232b4" stroke-width="1.05"/>
<circle cx="427.23" cy="566.55" r="1.25" fill="none" stroke="#1232b4" stroke-width="1.05"/>
<circle cx="427.58" cy="567.59" r="1.25" fill="none" stroke="#1232b4" stroke-width="1.05"/>
<circle cx="433.62" cy="560.88" r="1.25" fill="none" stroke="#1232b4" stroke-width="1.05"/>
<circle cx="434.14" cy="572.60" r="1.25" fill="none" stroke="#1232b4" stroke-width="1.05"/>
<circle cx="433.28" cy="565.44" r="1.25" fill="none" stroke="#1232b4" stroke-width="1.05"/>
<circle cx="433.68" cy="540.80" r="0.95" fill="#1232b4"/>
<circle cx="432.87" cy="549.74" r="1.25" fill="none" stroke="#1232b4" stroke-width="1.05"/>
<circle cx="432.43" cy="577.90" r="1.25" fill="none" stroke="#1232b4" stroke-width="1.05"/>
<circle cx="436.11" cy="571.24" r="1.25" fill="none" stroke="#1232b4" stroke-width="1.05"/>
<circle cx="437.38" cy="578.62" r="0.95" fill="#1232b4"/>
<circle cx="429.11" cy="584.19" r="1.25" fill="none" stroke="#1232b4" stroke-width="1.05"/>
<circle cx="430.29" cy="570.41" r="1.25" fill="none" stroke="#1232b4" stroke-width="1.05"/>
<circle cx="427.08" cy="547.41" r="1.25" fill="none" stroke="#1232b4" stroke-width="1.05"/>
<circle cx="433.82" cy="577.62" r="1.25" fill="none" stroke="#1232b4" stroke-width="1.05"/>
<circle cx="436.94" cy="571.14" r="1.25" fill="none" stroke="#1232b4" stroke-width="1.05"/>
<circle cx="430.20" cy="584.98" r="0.95" fill="#1232b4"/>
<circle cx="430.82" cy="568.40" r="1.25" fill="none" stroke="#1232b4" stroke-width="1.05"/>
<circle cx="430.18" cy="569.29" r="1.25" fill="none" stroke="#1232b4" stroke-width="1.05"/>
<circle cx="430.64" cy="588.99" r="0.95" fill="#1232b4"/>
<circle cx="434.25" cy="564.65" r="1.25" fill="none" stroke="#1232b4" stroke-width="1.05"/>
<circle cx="430.05" cy="567.62" r="1.25" fill="none" stroke="#1232b4" stroke-width="1.05"/>
<circle cx="431.34" cy="559.84" r="0.95" fill="#1232b4"/>
<circle cx="430.91" cy="552.08" r="1.25" fill="none" stroke="#1232b4" stroke-width="1.05"/>
<circle cx="429.75" cy="572.66" r="1.25" fill="none" stroke="#1232b4" stroke-width="1.05"/>
<line x1="431.50" y1="540.60" x2="431.50" y2="590.80" stroke="#d4184a" stroke-width="1.3"/>
<circle cx="431.50" cy="565.00" r="2.7" fill="#cc0018"/>
<path d="M448.70,525.00 C448.37,527.50 447.12,534.17 446.70,540.00 C446.28,545.83 446.20,553.33 446.20,560.00 C446.20,566.67 446.28,572.53 446.70,580.00 C447.12,587.47 448.37,600.67 448.70,604.80 L449.70,604.80 C450.03,600.67 451.28,587.47 451.70,580.00 C452.12,572.53 452.20,566.67 452.20,560.00 C452.20,553.33 452.12,545.83 451.70,540.00 C451.28,534.17 450.03,527.50 449.70,525.00 Z" fill="#ec7cbe" fill-opacity="0.92"/>
<circle cx="447.15" cy="562.69" r="0.95" fill="#1232b4"/>
<circle cx="450.40" cy="562.23" r="0.95" fill="#1232b4"/>
<circle cx="443.40" cy="561.53" r="1.25" fill="none" stroke="#1232b4" stroke-width="1.05"/>
<circle cx="448.38" cy="566.85" r="1.25" fill="none" stroke="#1232b4" stroke-width="1.05"/>
<circle cx="450.14" cy="568.94" r="1.25" fill="none" stroke="#1232b4" stroke-width="1.05"/>
<circle cx="446.83" cy="585.98" r="1.25" fill="none" stroke="#1232b4" stroke-width="1.05"/>
<circle cx="445.62" cy="578.97" r="0.95" fill="#1232b4"/>
<circle cx="454.15" cy="561.15" r="1.25" fill="none" stroke="#1232b4" stroke-width="1.05"/>
<circle cx="451.21" cy="555.29" r="1.25" fill="none" stroke="#1232b4" stroke-width="1.05"/>
<circle cx="447.87" cy="541.60" r="1.25" fill="none" stroke="#1232b4" stroke-width="1.05"/>
<circle cx="442.22" cy="543.43" r="1.25" fill="none" stroke="#1232b4" stroke-width="1.05"/>
<circle cx="447.49" cy="565.80" r="1.25" fill="none" stroke="#1232b4" stroke-width="1.05"/>
<circle cx="444.15" cy="572.34" r="0.95" fill="#1232b4"/>
<circle cx="449.27" cy="586.31" r="1.25" fill="none" stroke="#1232b4" stroke-width="1.05"/>
<circle cx="449.45" cy="556.04" r="0.95" fill="#1232b4"/>
<circle cx="455.41" cy="551.99" r="1.25" fill="none" stroke="#1232b4" stroke-width="1.05"/>
<circle cx="442.06" cy="549.27" r="0.95" fill="#1232b4"/>
<circle cx="454.10" cy="563.77" r="1.25" fill="none" stroke="#1232b4" stroke-width="1.05"/>
<circle cx="452.80" cy="575.95" r="1.25" fill="none" stroke="#1232b4" stroke-width="1.05"/>
<circle cx="445.88" cy="552.87" r="0.95" fill="#1232b4"/>
<circle cx="452.15" cy="568.21" r="1.25" fill="none" stroke="#1232b4" stroke-width="1.05"/>
<circle cx="442.61" cy="575.62" r="1.25" fill="none" stroke="#1232b4" stroke-width="1.05"/>
<circle cx="447.48" cy="582.36" r="1.25" fill="none" stroke="#1232b4" stroke-width="1.05"/>
<circle cx="452.35" cy="579.29" r="1.25" fill="none" stroke="#1232b4" stroke-width="1.05"/>
<circle cx="448.53" cy="596.25" r="1.25" fill="none" stroke="#1232b4" stroke-width="1.05"/>
<circle cx="448.77" cy="559.26" r="1.25" fill="none" stroke="#1232b4" stroke-width="1.05"/>
<circle cx="455.26" cy="578.06" r="1.25" fill="none" stroke="#1232b4" stroke-width="1.05"/>
<circle cx="444.89" cy="576.02" r="0.95" fill="#1232b4"/>
<circle cx="449.56" cy="592.60" r="0.95" fill="#1232b4"/>
<circle cx="448.85" cy="548.12" r="1.25" fill="none" stroke="#1232b4" stroke-width="1.05"/>
<circle cx="441.20" cy="568.52" r="1.25" fill="none" stroke="#1232b4" stroke-width="1.05"/>
<circle cx="457.20" cy="545.65" r="1.25" fill="none" stroke="#1232b4" stroke-width="1.05"/>
<circle cx="452.38" cy="563.05" r="1.25" fill="none" stroke="#1232b4" stroke-width="1.05"/>
<circle cx="447.78" cy="570.17" r="0.95" fill="#1232b4"/>
<circle cx="447.58" cy="565.83" r="1.25" fill="none" stroke="#1232b4" stroke-width="1.05"/>
<circle cx="449.26" cy="556.65" r="1.25" fill="none" stroke="#1232b4" stroke-width="1.05"/>
<circle cx="449.26" cy="539.90" r="1.25" fill="none" stroke="#1232b4" stroke-width="1.05"/>
<circle cx="450.02" cy="558.67" r="0.95" fill="#1232b4"/>
<circle cx="446.54" cy="573.27" r="1.25" fill="none" stroke="#1232b4" stroke-width="1.05"/>
<circle cx="444.73" cy="572.87" r="0.95" fill="#1232b4"/>
<circle cx="446.64" cy="569.58" r="0.95" fill="#1232b4"/>
<circle cx="445.45" cy="599.44" r="1.25" fill="none" stroke="#1232b4" stroke-width="1.05"/>
<circle cx="453.57" cy="584.13" r="1.25" fill="none" stroke="#1232b4" stroke-width="1.05"/>
<circle cx="443.16" cy="556.79" r="0.95" fill="#1232b4"/>
<circle cx="456.06" cy="549.08" r="0.95" fill="#1232b4"/>
<circle cx="444.10" cy="573.29" r="1.25" fill="none" stroke="#1232b4" stroke-width="1.05"/>
<circle cx="445.80" cy="572.81" r="0.95" fill="#1232b4"/>
<line x1="449.20" y1="525.00" x2="449.20" y2="604.80" stroke="#d4184a" stroke-width="1.3"/>
<circle cx="449.20" cy="565.00" r="2.7" fill="#cc0018"/>
<path d="M466.10,529.00 C465.77,531.67 464.52,539.00 464.10,545.00 C463.68,551.00 463.27,558.53 463.60,565.00 C463.93,571.47 465.68,580.67 466.10,583.80 L467.10,583.80 C467.52,580.67 469.27,571.47 469.60,565.00 C469.93,558.53 469.52,551.00 469.10,545.00 C468.68,539.00 467.43,531.67 467.10,529.00 Z" fill="#ec7cbe" fill-opacity="0.92"/>
<circle cx="465.10" cy="582.98" r="0.95" fill="#1232b4"/>
<circle cx="468.25" cy="569.44" r="0.95" fill="#1232b4"/>
<circle cx="468.44" cy="577.68" r="0.95" fill="#1232b4"/>
<circle cx="465.69" cy="566.53" r="1.25" fill="none" stroke="#1232b4" stroke-width="1.05"/>
<circle cx="463.11" cy="578.17" r="0.95" fill="#1232b4"/>
<circle cx="469.07" cy="547.09" r="1.25" fill="none" stroke="#1232b4" stroke-width="1.05"/>
<circle cx="459.75" cy="549.31" r="0.95" fill="#1232b4"/>
<circle cx="470.51" cy="564.34" r="1.25" fill="none" stroke="#1232b4" stroke-width="1.05"/>
<circle cx="466.89" cy="576.17" r="1.25" fill="none" stroke="#1232b4" stroke-width="1.05"/>
<circle cx="467.99" cy="555.62" r="0.95" fill="#1232b4"/>
<circle cx="468.35" cy="549.87" r="0.95" fill="#1232b4"/>
<circle cx="468.06" cy="550.29" r="1.25" fill="none" stroke="#1232b4" stroke-width="1.05"/>
<circle cx="464.20" cy="565.74" r="1.25" fill="none" stroke="#1232b4" stroke-width="1.05"/>
<circle cx="470.83" cy="561.22" r="0.95" fill="#1232b4"/>
<circle cx="473.03" cy="575.62" r="1.25" fill="none" stroke="#1232b4" stroke-width="1.05"/>
<circle cx="467.34" cy="574.16" r="1.25" fill="none" stroke="#1232b4" stroke-width="1.05"/>
<line x1="466.60" y1="529.00" x2="466.60" y2="597.00" stroke="#d4184a" stroke-width="1.3"/>
<circle cx="466.60" cy="565.00" r="2.7" fill="#cc0018"/>
<path d="M483.80,536.50 C483.55,538.75 483.05,546.42 482.30,550.00 C481.55,553.58 480.30,555.55 479.30,558.00 C478.30,560.45 476.30,562.37 476.30,564.70 C476.30,567.03 478.30,568.62 479.30,572.00 C480.30,575.38 481.55,580.42 482.30,585.00 C483.05,589.58 483.55,597.08 483.80,599.50 L484.80,599.50 C485.05,597.08 485.55,589.58 486.30,585.00 C487.05,580.42 488.30,575.38 489.30,572.00 C490.30,568.62 492.30,567.03 492.30,564.70 C492.30,562.37 490.30,560.45 489.30,558.00 C488.30,555.55 487.05,553.58 486.30,550.00 C485.55,546.42 485.05,538.75 484.80,536.50 Z" fill="#ec7cbe" fill-opacity="0.92"/>
<circle cx="482.47" cy="552.11" r="1.25" fill="none" stroke="#1232b4" stroke-width="1.05"/>
<circle cx="476.30" cy="572.85" r="1.25" fill="none" stroke="#1232b4" stroke-width="1.05"/>
<circle cx="488.64" cy="572.67" r="0.95" fill="#1232b4"/>
<circle cx="483.70" cy="576.70" r="0.95" fill="#1232b4"/>
<circle cx="478.88" cy="585.32" r="0.95" fill="#1232b4"/>
<circle cx="481.68" cy="574.97" r="0.95" fill="#1232b4"/>
<circle cx="479.65" cy="542.32" r="1.25" fill="none" stroke="#1232b4" stroke-width="1.05"/>
<circle cx="483.25" cy="542.23" r="1.25" fill="none" stroke="#1232b4" stroke-width="1.05"/>
<circle cx="487.60" cy="564.75" r="1.25" fill="none" stroke="#1232b4" stroke-width="1.05"/>
<circle cx="484.21" cy="568.51" r="0.95" fill="#1232b4"/>
<circle cx="488.56" cy="558.59" r="0.95" fill="#1232b4"/>
<circle cx="482.21" cy="555.90" r="1.25" fill="none" stroke="#1232b4" stroke-width="1.05"/>
<circle cx="488.20" cy="569.68" r="1.25" fill="none" stroke="#1232b4" stroke-width="1.05"/>
<circle cx="476.30" cy="547.18" r="1.25" fill="none" stroke="#1232b4" stroke-width="1.05"/>
<circle cx="489.59" cy="584.70" r="1.25" fill="none" stroke="#1232b4" stroke-width="1.05"/>
<circle cx="477.86" cy="566.54" r="1.25" fill="none" stroke="#1232b4" stroke-width="1.05"/>
<circle cx="481.20" cy="552.41" r="1.25" fill="none" stroke="#1232b4" stroke-width="1.05"/>
<circle cx="478.84" cy="584.02" r="1.25" fill="none" stroke="#1232b4" stroke-width="1.05"/>
<circle cx="486.22" cy="572.08" r="1.25" fill="none" stroke="#1232b4" stroke-width="1.05"/>
<circle cx="479.85" cy="580.25" r="1.25" fill="none" stroke="#1232b4" stroke-width="1.05"/>
<circle cx="485.54" cy="561.96" r="1.25" fill="none" stroke="#1232b4" stroke-width="1.05"/>
<circle cx="488.72" cy="582.81" r="0.95" fill="#1232b4"/>
<circle cx="487.99" cy="564.35" r="0.95" fill="#1232b4"/>
<circle cx="482.89" cy="569.08" r="1.25" fill="none" stroke="#1232b4" stroke-width="1.05"/>
<circle cx="484.79" cy="560.94" r="1.25" fill="none" stroke="#1232b4" stroke-width="1.05"/>
<circle cx="487.03" cy="576.30" r="1.25" fill="none" stroke="#1232b4" stroke-width="1.05"/>
<circle cx="485.44" cy="576.27" r="0.95" fill="#1232b4"/>
<circle cx="487.79" cy="570.53" r="0.95" fill="#1232b4"/>
<circle cx="484.34" cy="542.77" r="0.95" fill="#1232b4"/>
<circle cx="478.56" cy="560.03" r="1.25" fill="none" stroke="#1232b4" stroke-width="1.05"/>
<circle cx="481.04" cy="583.12" r="0.95" fill="#1232b4"/>
<circle cx="481.76" cy="586.84" r="0.95" fill="#1232b4"/>
<circle cx="487.62" cy="538.42" r="1.25" fill="none" stroke="#1232b4" stroke-width="1.05"/>
<circle cx="487.15" cy="565.27" r="1.25" fill="none" stroke="#1232b4" stroke-width="1.05"/>
<circle cx="483.19" cy="583.92" r="0.95" fill="#1232b4"/>
<circle cx="483.78" cy="560.10" r="1.25" fill="none" stroke="#1232b4" stroke-width="1.05"/>
<circle cx="476.79" cy="559.12" r="1.25" fill="none" stroke="#1232b4" stroke-width="1.05"/>
<circle cx="476.78" cy="578.48" r="0.95" fill="#1232b4"/>
<circle cx="483.19" cy="547.59" r="1.25" fill="none" stroke="#1232b4" stroke-width="1.05"/>
<circle cx="488.17" cy="564.55" r="1.25" fill="none" stroke="#1232b4" stroke-width="1.05"/>
<circle cx="486.54" cy="557.68" r="1.25" fill="none" stroke="#1232b4" stroke-width="1.05"/>
<circle cx="479.89" cy="579.19" r="1.25" fill="none" stroke="#1232b4" stroke-width="1.05"/>
<circle cx="490.84" cy="569.42" r="1.25" fill="none" stroke="#1232b4" stroke-width="1.05"/>
<circle cx="484.52" cy="565.18" r="1.25" fill="none" stroke="#1232b4" stroke-width="1.05"/>
<line x1="484.30" y1="536.50" x2="484.30" y2="597.80" stroke="#d4184a" stroke-width="1.3"/>
<circle cx="484.30" cy="564.70" r="2.7" fill="#cc0018"/>
<path d="M501.20,503.70 C500.87,508.08 499.62,521.45 499.20,530.00 C498.78,538.55 499.03,549.17 498.70,555.00 C498.37,560.83 497.53,560.83 497.20,565.00 C496.87,569.17 496.03,575.70 496.70,580.00 C497.37,584.30 500.45,589.00 501.20,590.80 L502.20,590.80 C502.95,589.00 506.03,584.30 506.70,580.00 C507.37,575.70 506.53,569.17 506.20,565.00 C505.87,560.83 505.03,560.83 504.70,555.00 C504.37,549.17 504.62,538.55 504.20,530.00 C503.78,521.45 502.53,508.08 502.20,503.70 Z" fill="#ec7cbe" fill-opacity="0.92"/>
<circle cx="493.91" cy="561.85" r="1.25" fill="none" stroke="#1232b4" stroke-width="1.05"/>
<circle cx="493.70" cy="585.33" r="1.25" fill="none" stroke="#1232b4" stroke-width="1.05"/>
<circle cx="496.25" cy="553.59" r="1.25" fill="none" stroke="#1232b4" stroke-width="1.05"/>
<circle cx="503.84" cy="572.92" r="0.95" fill="#1232b4"/>
<circle cx="499.25" cy="536.45" r="0.95" fill="#1232b4"/>
<circle cx="505.49" cy="574.50" r="1.25" fill="none" stroke="#1232b4" stroke-width="1.05"/>
<circle cx="497.33" cy="559.55" r="1.25" fill="none" stroke="#1232b4" stroke-width="1.05"/>
<circle cx="507.75" cy="557.43" r="0.95" fill="#1232b4"/>
<circle cx="508.74" cy="580.95" r="1.25" fill="none" stroke="#1232b4" stroke-width="1.05"/>
<circle cx="504.65" cy="549.70" r="1.25" fill="none" stroke="#1232b4" stroke-width="1.05"/>
<circle cx="497.79" cy="545.79" r="1.25" fill="none" stroke="#1232b4" stroke-width="1.05"/>
<circle cx="502.04" cy="539.55" r="1.25" fill="none" stroke="#1232b4" stroke-width="1.05"/>
<circle cx="495.40" cy="564.70" r="1.25" fill="none" stroke="#1232b4" stroke-width="1.05"/>
<circle cx="501.70" cy="536.85" r="0.95" fill="#1232b4"/>
<circle cx="501.45" cy="589.44" r="1.25" fill="none" stroke="#1232b4" stroke-width="1.05"/>
<circle cx="502.60" cy="561.11" r="1.25" fill="none" stroke="#1232b4" stroke-width="1.05"/>
<circle cx="500.17" cy="575.56" r="1.25" fill="none" stroke="#1232b4" stroke-width="1.05"/>
<circle cx="503.56" cy="555.27" r="0.95" fill="#1232b4"/>
<circle cx="504.23" cy="575.77" r="1.25" fill="none" stroke="#1232b4" stroke-width="1.05"/>
<circle cx="504.31" cy="554.49" r="0.95" fill="#1232b4"/>
<circle cx="501.63" cy="565.10" r="0.95" fill="#1232b4"/>
<circle cx="498.82" cy="569.88" r="1.25" fill="none" stroke="#1232b4" stroke-width="1.05"/>
<circle cx="501.96" cy="560.64" r="1.25" fill="none" stroke="#1232b4" stroke-width="1.05"/>
<circle cx="502.51" cy="531.64" r="1.25" fill="none" stroke="#1232b4" stroke-width="1.05"/>
<circle cx="501.62" cy="576.19" r="1.25" fill="none" stroke="#1232b4" stroke-width="1.05"/>
<circle cx="506.48" cy="569.87" r="1.25" fill="none" stroke="#1232b4" stroke-width="1.05"/>
<circle cx="501.58" cy="560.02" r="1.25" fill="none" stroke="#1232b4" stroke-width="1.05"/>
<circle cx="502.63" cy="574.22" r="0.95" fill="#1232b4"/>
<circle cx="508.85" cy="554.62" r="1.25" fill="none" stroke="#1232b4" stroke-width="1.05"/>
<circle cx="500.12" cy="542.86" r="1.25" fill="none" stroke="#1232b4" stroke-width="1.05"/>
<circle cx="497.03" cy="575.61" r="1.25" fill="none" stroke="#1232b4" stroke-width="1.05"/>
<circle cx="504.30" cy="557.65" r="0.95" fill="#1232b4"/>
<circle cx="499.94" cy="553.09" r="1.25" fill="none" stroke="#1232b4" stroke-width="1.05"/>
<circle cx="505.01" cy="571.84" r="1.25" fill="none" stroke="#1232b4" stroke-width="1.05"/>
<circle cx="500.00" cy="506.41" r="1.25" fill="none" stroke="#1232b4" stroke-width="1.05"/>
<circle cx="498.02" cy="546.64" r="0.95" fill="#1232b4"/>
<circle cx="500.69" cy="585.80" r="0.95" fill="#1232b4"/>
<circle cx="503.76" cy="553.13" r="1.25" fill="none" stroke="#1232b4" stroke-width="1.05"/>
<circle cx="501.13" cy="543.58" r="1.25" fill="none" stroke="#1232b4" stroke-width="1.05"/>
<circle cx="509.70" cy="542.11" r="1.25" fill="none" stroke="#1232b4" stroke-width="1.05"/>
<circle cx="504.01" cy="541.75" r="1.25" fill="none" stroke="#1232b4" stroke-width="1.05"/>
<circle cx="498.23" cy="552.44" r="1.25" fill="none" stroke="#1232b4" stroke-width="1.05"/>
<line x1="501.70" y1="503.70" x2="501.70" y2="601.30" stroke="#d4184a" stroke-width="1.3"/>
<circle cx="501.70" cy="564.70" r="2.7" fill="#cc0018"/>
<rect x="50.80" y="475.80" width="88.70" height="24.00" fill="#bfe3ea"/>
<text font-size="7.9" text-anchor="middle" fill="#1a1a1a" stroke="#1a1a1a" stroke-width="0.16" transform="translate(94.85 484.70)">Capacity (MFI)</text>
<text font-size="7.7" text-anchor="middle" fill="#1a1a1a" stroke="#1a1a1a" stroke-width="0.16" transform="translate(94.85 494.40)">Fibrinogen</text>
<line x1="47.20" y1="506.60" x2="50.20" y2="506.60" stroke="#333" stroke-width="0.9"/>
<text font-size="7.4" text-anchor="end" fill="#222" stroke="#222" stroke-width="0.16" transform="translate(44.90 509.20)">20000</text>
<line x1="47.20" y1="528.50" x2="50.20" y2="528.50" stroke="#333" stroke-width="0.9"/>
<text font-size="7.4" text-anchor="end" fill="#222" stroke="#222" stroke-width="0.16" transform="translate(44.90 531.10)">15000</text>
<line x1="47.20" y1="550.50" x2="50.20" y2="550.50" stroke="#333" stroke-width="0.9"/>
<text font-size="7.4" text-anchor="end" fill="#222" stroke="#222" stroke-width="0.16" transform="translate(44.90 553.10)">10000</text>
<line x1="47.20" y1="572.50" x2="50.20" y2="572.50" stroke="#333" stroke-width="0.9"/>
<text font-size="7.4" text-anchor="end" fill="#222" stroke="#222" stroke-width="0.16" transform="translate(44.90 575.10)">5000</text>
<line x1="47.20" y1="594.40" x2="50.20" y2="594.40" stroke="#333" stroke-width="0.9"/>
<text font-size="7.4" text-anchor="end" fill="#222" stroke="#222" stroke-width="0.16" transform="translate(44.90 597.00)">0</text>
<line x1="60.50" y1="608.30" x2="60.50" y2="611.40" stroke="#333" stroke-width="0.9"/>
<text font-size="7.25" text-anchor="end" fill="#0a0a0a" stroke="#0a0a0a" stroke-width="0.16" transform="translate(64.30 617.20) rotate(-45)">ADP</text>
<line x1="78.00" y1="608.30" x2="78.00" y2="611.40" stroke="#333" stroke-width="0.9"/>
<text font-size="7.25" text-anchor="end" fill="#0a0a0a" stroke="#0a0a0a" stroke-width="0.16" transform="translate(81.80 617.20) rotate(-45)">CRP</text>
<line x1="95.60" y1="608.30" x2="95.60" y2="611.40" stroke="#333" stroke-width="0.9"/>
<text font-size="7.25" text-anchor="end" fill="#0a0a0a" stroke="#0a0a0a" stroke-width="0.16" transform="translate(99.40 617.20) rotate(-45)">Epinephrine</text>
<line x1="112.90" y1="608.30" x2="112.90" y2="611.40" stroke="#333" stroke-width="0.9"/>
<text font-size="7.25" text-anchor="end" fill="#0a0a0a" stroke="#0a0a0a" stroke-width="0.16" transform="translate(116.70 617.20) rotate(-45)">TRAP-6</text>
<line x1="130.40" y1="608.30" x2="130.40" y2="611.40" stroke="#333" stroke-width="0.9"/>
<text font-size="7.25" text-anchor="end" fill="#0a0a0a" stroke="#0a0a0a" stroke-width="0.16" transform="translate(134.20 617.20) rotate(-45)">U46619</text>
<path d="M50.20,475.80 L50.20,608.30 L139.50,608.30" fill="none" stroke="#000" stroke-width="1.2"/>
<rect x="181.00" y="475.80" width="89.80" height="24.00" fill="#bfe3ea"/>
<text font-size="7.9" text-anchor="middle" fill="#1a1a1a" stroke="#1a1a1a" stroke-width="0.16" transform="translate(225.60 484.70)">Capacity (MFI)</text>
<text font-size="7.7" text-anchor="middle" fill="#1a1a1a" stroke="#1a1a1a" stroke-width="0.16" transform="translate(225.60 494.40)">P-selectin</text>
<line x1="177.40" y1="506.60" x2="180.40" y2="506.60" stroke="#333" stroke-width="0.9"/>
<text font-size="7.4" text-anchor="end" fill="#222" stroke="#222" stroke-width="0.16" transform="translate(175.10 509.20)">20000</text>
<line x1="177.40" y1="528.50" x2="180.40" y2="528.50" stroke="#333" stroke-width="0.9"/>
<text font-size="7.4" text-anchor="end" fill="#222" stroke="#222" stroke-width="0.16" transform="translate(175.10 531.10)">15000</text>
<line x1="177.40" y1="550.50" x2="180.40" y2="550.50" stroke="#333" stroke-width="0.9"/>
<text font-size="7.4" text-anchor="end" fill="#222" stroke="#222" stroke-width="0.16" transform="translate(175.10 553.10)">10000</text>
<line x1="177.40" y1="572.50" x2="180.40" y2="572.50" stroke="#333" stroke-width="0.9"/>
<text font-size="7.4" text-anchor="end" fill="#222" stroke="#222" stroke-width="0.16" transform="translate(175.10 575.10)">5000</text>
<line x1="177.40" y1="594.40" x2="180.40" y2="594.40" stroke="#333" stroke-width="0.9"/>
<text font-size="7.4" text-anchor="end" fill="#222" stroke="#222" stroke-width="0.16" transform="translate(175.10 597.00)">0</text>
<line x1="190.80" y1="608.30" x2="190.80" y2="611.40" stroke="#333" stroke-width="0.9"/>
<text font-size="7.25" text-anchor="end" fill="#0a0a0a" stroke="#0a0a0a" stroke-width="0.16" transform="translate(194.60 617.20) rotate(-45)">ADP</text>
<line x1="207.80" y1="608.30" x2="207.80" y2="611.40" stroke="#333" stroke-width="0.9"/>
<text font-size="7.25" text-anchor="end" fill="#0a0a0a" stroke="#0a0a0a" stroke-width="0.16" transform="translate(211.60 617.20) rotate(-45)">CRP</text>
<line x1="225.30" y1="608.30" x2="225.30" y2="611.40" stroke="#333" stroke-width="0.9"/>
<text font-size="7.25" text-anchor="end" fill="#0a0a0a" stroke="#0a0a0a" stroke-width="0.16" transform="translate(229.10 617.20) rotate(-45)">Epinephrine</text>
<line x1="243.00" y1="608.30" x2="243.00" y2="611.40" stroke="#333" stroke-width="0.9"/>
<text font-size="7.25" text-anchor="end" fill="#0a0a0a" stroke="#0a0a0a" stroke-width="0.16" transform="translate(246.80 617.20) rotate(-45)">TRAP-6</text>
<line x1="260.50" y1="608.30" x2="260.50" y2="611.40" stroke="#333" stroke-width="0.9"/>
<text font-size="7.25" text-anchor="end" fill="#0a0a0a" stroke="#0a0a0a" stroke-width="0.16" transform="translate(264.30 617.20) rotate(-45)">U46619</text>
<path d="M180.40,475.80 L180.40,608.30 L270.80,608.30" fill="none" stroke="#000" stroke-width="1.2"/>
<rect x="301.80" y="475.80" width="89.80" height="24.00" fill="#bfe3ea"/>
<text font-size="7.9" text-anchor="middle" fill="#1a1a1a" stroke="#1a1a1a" stroke-width="0.16" transform="translate(346.40 484.70)">Sensitivity (log(g/L or M))</text>
<text font-size="7.7" text-anchor="middle" fill="#1a1a1a" stroke="#1a1a1a" stroke-width="0.16" transform="translate(346.40 494.40)">Fibrinogen</text>
<line x1="298.20" y1="500.10" x2="301.20" y2="500.10" stroke="#333" stroke-width="0.9"/>
<text font-size="7.4" text-anchor="end" fill="#222" stroke="#222" stroke-width="0.16" transform="translate(295.90 502.70)">1.0</text>
<line x1="298.20" y1="527.20" x2="301.20" y2="527.20" stroke="#333" stroke-width="0.9"/>
<text font-size="7.4" text-anchor="end" fill="#222" stroke="#222" stroke-width="0.16" transform="translate(295.90 529.80)">0.5</text>
<line x1="298.20" y1="554.20" x2="301.20" y2="554.20" stroke="#333" stroke-width="0.9"/>
<text font-size="7.4" text-anchor="end" fill="#222" stroke="#222" stroke-width="0.16" transform="translate(295.90 556.80)">0.0</text>
<line x1="298.20" y1="581.20" x2="301.20" y2="581.20" stroke="#333" stroke-width="0.9"/>
<text font-size="7.4" text-anchor="end" fill="#222" stroke="#222" stroke-width="0.16" transform="translate(295.90 583.80)">−0.5</text>
<line x1="298.20" y1="608.20" x2="301.20" y2="608.20" stroke="#333" stroke-width="0.9"/>
<text font-size="7.4" text-anchor="end" fill="#222" stroke="#222" stroke-width="0.16" transform="translate(295.90 610.80)">−1.0</text>
<line x1="311.30" y1="608.30" x2="311.30" y2="611.40" stroke="#333" stroke-width="0.9"/>
<text font-size="7.25" text-anchor="end" fill="#0a0a0a" stroke="#0a0a0a" stroke-width="0.16" transform="translate(315.10 617.20) rotate(-45)">ADP</text>
<line x1="328.70" y1="608.30" x2="328.70" y2="611.40" stroke="#333" stroke-width="0.9"/>
<text font-size="7.25" text-anchor="end" fill="#0a0a0a" stroke="#0a0a0a" stroke-width="0.16" transform="translate(332.50 617.20) rotate(-45)">CRP</text>
<line x1="346.20" y1="608.30" x2="346.20" y2="611.40" stroke="#333" stroke-width="0.9"/>
<text font-size="7.25" text-anchor="end" fill="#0a0a0a" stroke="#0a0a0a" stroke-width="0.16" transform="translate(350.00 617.20) rotate(-45)">Epinephrine</text>
<line x1="364.00" y1="608.30" x2="364.00" y2="611.40" stroke="#333" stroke-width="0.9"/>
<text font-size="7.25" text-anchor="end" fill="#0a0a0a" stroke="#0a0a0a" stroke-width="0.16" transform="translate(367.80 617.20) rotate(-45)">TRAP-6</text>
<line x1="381.70" y1="608.30" x2="381.70" y2="611.40" stroke="#333" stroke-width="0.9"/>
<text font-size="7.25" text-anchor="end" fill="#0a0a0a" stroke="#0a0a0a" stroke-width="0.16" transform="translate(385.50 617.20) rotate(-45)">U46619</text>
<path d="M301.20,475.80 L301.20,608.30 L391.60,608.30" fill="none" stroke="#000" stroke-width="1.2"/>
<rect x="421.80" y="475.80" width="89.80" height="24.00" fill="#bfe3ea"/>
<text font-size="7.9" text-anchor="middle" fill="#1a1a1a" stroke="#1a1a1a" stroke-width="0.16" transform="translate(466.40 484.70)">Sensitivity (log(g/L or M))</text>
<text font-size="7.7" text-anchor="middle" fill="#1a1a1a" stroke="#1a1a1a" stroke-width="0.16" transform="translate(466.40 494.40)">P-selectin</text>
<line x1="418.20" y1="499.80" x2="421.20" y2="499.80" stroke="#333" stroke-width="0.9"/>
<text font-size="7.4" text-anchor="end" fill="#222" stroke="#222" stroke-width="0.16" transform="translate(415.90 502.40)">1.0</text>
<line x1="418.20" y1="531.60" x2="421.20" y2="531.60" stroke="#333" stroke-width="0.9"/>
<text font-size="7.4" text-anchor="end" fill="#222" stroke="#222" stroke-width="0.16" transform="translate(415.90 534.20)">0.5</text>
<line x1="418.20" y1="563.30" x2="421.20" y2="563.30" stroke="#333" stroke-width="0.9"/>
<text font-size="7.4" text-anchor="end" fill="#222" stroke="#222" stroke-width="0.16" transform="translate(415.90 565.90)">0.0</text>
<line x1="418.20" y1="595.10" x2="421.20" y2="595.10" stroke="#333" stroke-width="0.9"/>
<text font-size="7.4" text-anchor="end" fill="#222" stroke="#222" stroke-width="0.16" transform="translate(415.90 597.70)">−0.5</text>
<line x1="431.30" y1="608.30" x2="431.30" y2="611.40" stroke="#333" stroke-width="0.9"/>
<text font-size="7.25" text-anchor="end" fill="#0a0a0a" stroke="#0a0a0a" stroke-width="0.16" transform="translate(435.10 617.20) rotate(-45)">ADP</text>
<line x1="449.00" y1="608.30" x2="449.00" y2="611.40" stroke="#333" stroke-width="0.9"/>
<text font-size="7.25" text-anchor="end" fill="#0a0a0a" stroke="#0a0a0a" stroke-width="0.16" transform="translate(452.80 617.20) rotate(-45)">CRP</text>
<line x1="466.50" y1="608.30" x2="466.50" y2="611.40" stroke="#333" stroke-width="0.9"/>
<text font-size="7.25" text-anchor="end" fill="#0a0a0a" stroke="#0a0a0a" stroke-width="0.16" transform="translate(470.30 617.20) rotate(-45)">Epinephrine</text>
<line x1="484.30" y1="608.30" x2="484.30" y2="611.40" stroke="#333" stroke-width="0.9"/>
<text font-size="7.25" text-anchor="end" fill="#0a0a0a" stroke="#0a0a0a" stroke-width="0.16" transform="translate(488.10 617.20) rotate(-45)">TRAP-6</text>
<line x1="501.70" y1="608.30" x2="501.70" y2="611.40" stroke="#333" stroke-width="0.9"/>
<text font-size="7.25" text-anchor="end" fill="#0a0a0a" stroke="#0a0a0a" stroke-width="0.16" transform="translate(505.50 617.20) rotate(-45)">U46619</text>
<path d="M421.20,475.80 L421.20,608.30 L511.60,608.30" fill="none" stroke="#000" stroke-width="1.2"/>
<rect x="0" y="0" width="520" height="1.5" fill="#000"/>
<rect x="0" y="0" width="1.15" height="659" fill="#000"/>
<rect x="518.1" y="0" width="1.9" height="659" fill="#000"/>
<rect x="0" y="657.5" width="520" height="1.5" fill="#000"/>
</svg>
</body></html>
